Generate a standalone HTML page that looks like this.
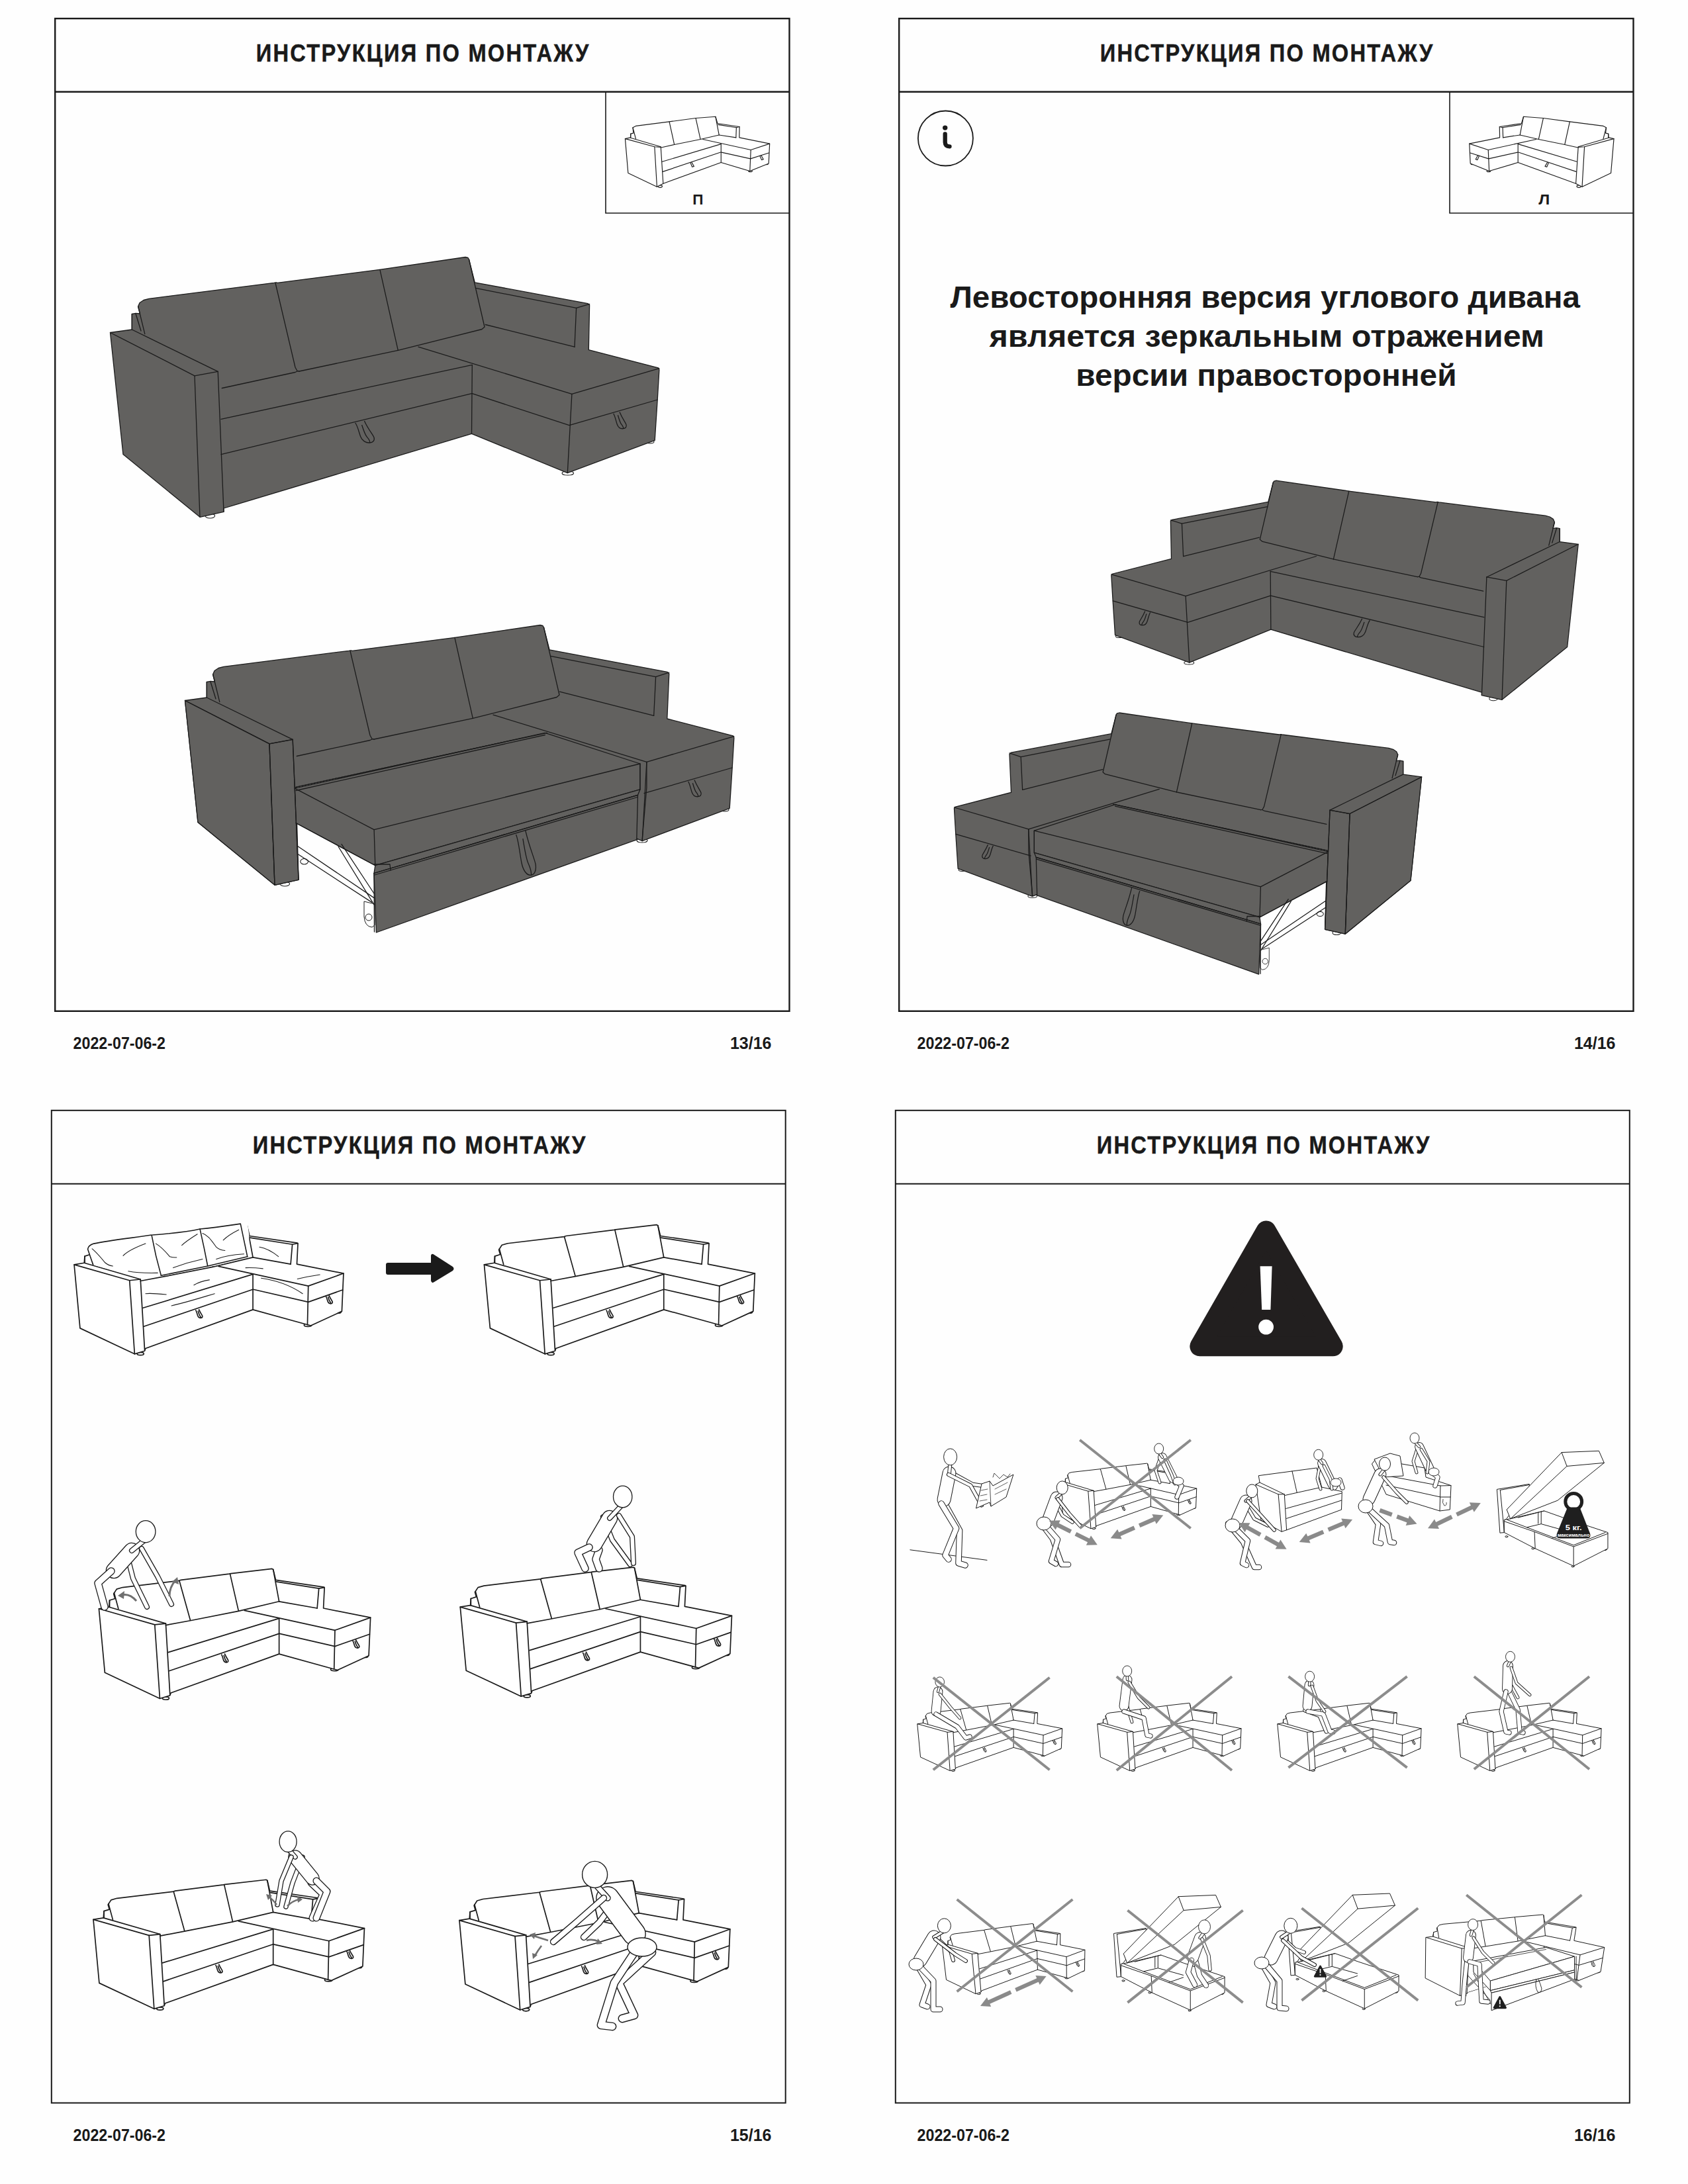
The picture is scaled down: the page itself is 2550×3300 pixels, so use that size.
<!DOCTYPE html>
<html><head><meta charset="utf-8"><style>
html,body{margin:0;padding:0;background:#fefefe;}
body{width:2550px;height:3300px;overflow:hidden;position:relative;}
svg{position:absolute;left:0;top:0;}
.nss *{vector-effect:non-scaling-stroke;}
</style></head><body>
<svg width="2550" height="3300" viewBox="0 0 2550 3300">
<rect x="83.2" y="28" width="1109.3" height="1499.8" fill="none" stroke="#1a1a1a" stroke-width="2.4"/>
<line x1="83.2" y1="138.8" x2="1192.5" y2="138.8" stroke="#1a1a1a" stroke-width="2.4"/>
<rect x="1358.2" y="28" width="1109.3" height="1499.8" fill="none" stroke="#1a1a1a" stroke-width="2.4"/>
<line x1="1358.2" y1="138.8" x2="2467.5" y2="138.8" stroke="#1a1a1a" stroke-width="2.4"/>
<rect x="77.8" y="1677.8" width="1108.9" height="1499.7" fill="none" stroke="#1a1a1a" stroke-width="2.0"/>
<line x1="77.8" y1="1788.8" x2="1186.7" y2="1788.8" stroke="#1a1a1a" stroke-width="2.0"/>
<rect x="1352.8" y="1677.8" width="1109.0000000000002" height="1499.7" fill="none" stroke="#1a1a1a" stroke-width="2.0"/>
<line x1="1352.8" y1="1788.8" x2="2461.8" y2="1788.8" stroke="#1a1a1a" stroke-width="2.0"/>
<text transform="translate(386.70000000000005,92.6) scale(0.9,1)" x="0" y="0" font-family="Liberation Sans" font-weight="bold" font-size="36.3" textLength="558.4" lengthAdjust="spacing" fill="#1a1a1a" stroke="#1a1a1a" stroke-width="0.5">ИНСТРУКЦИЯ ПО МОНТАЖУ</text>
<text transform="translate(1661.6999999999998,92.6) scale(0.9,1)" x="0" y="0" font-family="Liberation Sans" font-weight="bold" font-size="36.3" textLength="558.4" lengthAdjust="spacing" fill="#1a1a1a" stroke="#1a1a1a" stroke-width="0.5">ИНСТРУКЦИЯ ПО МОНТАЖУ</text>
<text transform="translate(381.70000000000005,1742.6) scale(0.9,1)" x="0" y="0" font-family="Liberation Sans" font-weight="bold" font-size="36.3" textLength="558.4" lengthAdjust="spacing" fill="#1a1a1a" stroke="#1a1a1a" stroke-width="0.5">ИНСТРУКЦИЯ ПО МОНТАЖУ</text>
<text transform="translate(1656.6999999999998,1742.6) scale(0.9,1)" x="0" y="0" font-family="Liberation Sans" font-weight="bold" font-size="36.3" textLength="558.4" lengthAdjust="spacing" fill="#1a1a1a" stroke="#1a1a1a" stroke-width="0.5">ИНСТРУКЦИЯ ПО МОНТАЖУ</text>
<text x="110.6" y="1584.6" font-family="Liberation Sans" font-weight="bold" font-size="25.5" textLength="139.4" lengthAdjust="spacingAndGlyphs" fill="#1a1a1a">2022-07-06-2</text>
<text x="1102.9" y="1584.6" font-family="Liberation Sans" font-weight="bold" font-size="25.5" textLength="62.6" lengthAdjust="spacingAndGlyphs" fill="#1a1a1a">13/16</text>
<text x="1385.6" y="1584.6" font-family="Liberation Sans" font-weight="bold" font-size="25.5" textLength="139.4" lengthAdjust="spacingAndGlyphs" fill="#1a1a1a">2022-07-06-2</text>
<text x="2377.9" y="1584.6" font-family="Liberation Sans" font-weight="bold" font-size="25.5" textLength="62.6" lengthAdjust="spacingAndGlyphs" fill="#1a1a1a">14/16</text>
<text x="110.6" y="3234.6" font-family="Liberation Sans" font-weight="bold" font-size="25.5" textLength="139.4" lengthAdjust="spacingAndGlyphs" fill="#1a1a1a">2022-07-06-2</text>
<text x="1102.9" y="3234.6" font-family="Liberation Sans" font-weight="bold" font-size="25.5" textLength="62.6" lengthAdjust="spacingAndGlyphs" fill="#1a1a1a">15/16</text>
<text x="1385.6" y="3234.6" font-family="Liberation Sans" font-weight="bold" font-size="25.5" textLength="139.4" lengthAdjust="spacingAndGlyphs" fill="#1a1a1a">2022-07-06-2</text>
<text x="2377.9" y="3234.6" font-family="Liberation Sans" font-weight="bold" font-size="25.5" textLength="62.6" lengthAdjust="spacingAndGlyphs" fill="#1a1a1a">16/16</text>
<polyline points="915,138.8 915,322 1192.5,322" fill="none" stroke="#1a1a1a" stroke-width="1.6"/>
<polyline points="2190,138.8 2190,322 2467.5,322" fill="none" stroke="#1a1a1a" stroke-width="1.6"/>
<g transform="matrix(0.1777145903678692,0,0,0.1777145903678692,900,135)" fill="none" stroke="#1c1c1c" stroke-width="6.5" stroke-linejoin="round" stroke-linecap="round">
<ellipse cx="547.5" cy="825.0" rx="17.5" ry="10.0"/>
<ellipse cx="1314.0" cy="695.0" rx="16.0" ry="7.0"/>
<ellipse cx="1452.5" cy="634.0" rx="12.5" ry="6.0"/>
<polygon points="250.0,420.0 295.0,410.0 297.0,378.0 320.0,372.0 315.0,325.0 340.0,312.0 625.0,275.0 850.0,245.0 1018.0,232.0 1035.0,290.0 1222.0,318.0 1220.0,410.0 1478.0,462.0 1470.0,630.0 1310.0,695.0 1065.0,622.0 575.0,800.0 520.0,828.0 275.0,712.0" fill="#fff"/>
<polyline points="250.0,420.0 500.0,488.0 553.0,492.0"/>
<polyline points="295.0,412.0 553.0,488.0"/>
<polyline points="500.0,488.0 520.0,828.0"/>
<polyline points="553.0,492.0 573.0,800.0"/>
<polyline points="315.0,325.0 340.0,420.0"/>
<polyline points="297.0,378.0 297.0,410.0"/>
<polyline points="625.0,275.0 668.0,470.0"/>
<polyline points="850.0,245.0 890.0,425.0"/>
<polyline points="555.0,495.0 668.0,470.0 890.0,425.0 1048.0,388.0"/>
<polyline points="1018.0,232.0 1048.0,388.0"/>
<polyline points="1040.0,300.0 1195.0,325.0 1222.0,318.0"/>
<polyline points="1195.0,325.0 1192.0,410.0"/>
<polyline points="1048.0,388.0 1192.0,410.0"/>
<polyline points="910.0,425.0 1318.0,515.0 1478.0,462.0"/>
<polyline points="1318.0,515.0 1310.0,695.0"/>
<polyline points="1068.0,535.0 1315.0,590.0 1472.0,540.0"/>
<polyline points="1065.0,465.0 1065.0,622.0"/>
<polyline points="565.0,615.0 1065.0,465.0"/>
<polyline points="570.0,700.0 1062.0,535.0"/>
<polyline points="805.0,625.0 820.0,660.0 835.0,655.0 815.0,620.0"/>
<polyline points="1395.0,565.0 1410.0,600.0 1425.0,595.0 1405.0,560.0"/>

</g>
<g transform="matrix(-0.1777145903678692,0,0,0.1777145903678692,2482.4462413364136,135)" fill="none" stroke="#1c1c1c" stroke-width="6.5" stroke-linejoin="round" stroke-linecap="round">
<ellipse cx="547.5" cy="825.0" rx="17.5" ry="10.0"/>
<ellipse cx="1314.0" cy="695.0" rx="16.0" ry="7.0"/>
<ellipse cx="1452.5" cy="634.0" rx="12.5" ry="6.0"/>
<polygon points="250.0,420.0 295.0,410.0 297.0,378.0 320.0,372.0 315.0,325.0 340.0,312.0 625.0,275.0 850.0,245.0 1018.0,232.0 1035.0,290.0 1222.0,318.0 1220.0,410.0 1478.0,462.0 1470.0,630.0 1310.0,695.0 1065.0,622.0 575.0,800.0 520.0,828.0 275.0,712.0" fill="#fff"/>
<polyline points="250.0,420.0 500.0,488.0 553.0,492.0"/>
<polyline points="295.0,412.0 553.0,488.0"/>
<polyline points="500.0,488.0 520.0,828.0"/>
<polyline points="553.0,492.0 573.0,800.0"/>
<polyline points="315.0,325.0 340.0,420.0"/>
<polyline points="297.0,378.0 297.0,410.0"/>
<polyline points="625.0,275.0 668.0,470.0"/>
<polyline points="850.0,245.0 890.0,425.0"/>
<polyline points="555.0,495.0 668.0,470.0 890.0,425.0 1048.0,388.0"/>
<polyline points="1018.0,232.0 1048.0,388.0"/>
<polyline points="1040.0,300.0 1195.0,325.0 1222.0,318.0"/>
<polyline points="1195.0,325.0 1192.0,410.0"/>
<polyline points="1048.0,388.0 1192.0,410.0"/>
<polyline points="910.0,425.0 1318.0,515.0 1478.0,462.0"/>
<polyline points="1318.0,515.0 1310.0,695.0"/>
<polyline points="1068.0,535.0 1315.0,590.0 1472.0,540.0"/>
<polyline points="1065.0,465.0 1065.0,622.0"/>
<polyline points="565.0,615.0 1065.0,465.0"/>
<polyline points="570.0,700.0 1062.0,535.0"/>
<polyline points="805.0,625.0 820.0,660.0 835.0,655.0 815.0,620.0"/>
<polyline points="1395.0,565.0 1410.0,600.0 1425.0,595.0 1405.0,560.0"/>

</g>
<text x="1046.2" y="308.8" font-family="Liberation Sans" font-weight="bold" font-size="22.7" textLength="16.2" lengthAdjust="spacingAndGlyphs" fill="#1a1a1a">П</text>
<text x="2324.3" y="308.8" font-family="Liberation Sans" font-weight="bold" font-size="22.7" textLength="17" lengthAdjust="spacingAndGlyphs" fill="#1a1a1a">Л</text>
<circle cx="1428.4" cy="209" r="41.5" fill="none" stroke="#1a1a1a" stroke-width="1.8"/>
<circle cx="1427.7" cy="193.1" r="3.7" fill="#1a1a1a"/>
<path d="M1427.7,202.5 L1427.7,215 Q1427.9,221.3 1434.5,221.3" fill="none" stroke="#1a1a1a" stroke-width="6.3" stroke-linecap="round" stroke-linejoin="round"/>
<text x="1435.4" y="465.3" font-family="Liberation Sans" font-weight="bold" font-size="46" textLength="951.5999999999999" lengthAdjust="spacingAndGlyphs" fill="#1a1a1a">Левосторонняя версия углового дивана</text>
<text x="1494.5" y="524" font-family="Liberation Sans" font-weight="bold" font-size="46" textLength="838.5" lengthAdjust="spacingAndGlyphs" fill="#1a1a1a">является зеркальным отражением</text>
<text x="1625.3" y="582.6" font-family="Liberation Sans" font-weight="bold" font-size="46" textLength="575.2" lengthAdjust="spacingAndGlyphs" fill="#1a1a1a">версии правосторонней</text>
<g transform="matrix(0.25352,0,0,0.25475,100.65,1840.00)" fill="none" stroke="#1c1c1c" stroke-width="1.7" stroke-linejoin="round" stroke-linecap="round" class="nss">
<ellipse cx="440.0" cy="806.5" rx="20.0" ry="8.5"/>
<ellipse cx="1437.5" cy="636.5" rx="22.5" ry="8.5"/>
<ellipse cx="1617.5" cy="559.0" rx="17.5" ry="7.0"/>
<polygon points="45.0,278.0 105.0,268.0 108.0,228.0 140.0,218.0 132.0,190.0 150.0,162.0 185.0,152.0 520.0,112.0 530.0,108.0 815.0,72.0 825.0,70.0 1068.0,42.0 1075.0,46.0 1090.0,108.0 1375.0,150.0 1378.0,155.0 1372.0,275.0 1650.0,330.0 1640.0,555.0 1455.0,640.0 1110.0,545.0 470.0,775.0 465.0,790.0 405.0,808.0 80.0,655.0" fill="#fff"/>
<polyline points="45.0,278.0 375.0,372.0 440.0,365.0"/>
<polyline points="105.0,268.0 440.0,365.0"/>
<polyline points="375.0,372.0 405.0,808.0"/>
<polyline points="440.0,365.0 465.0,785.0"/>
<polyline points="135.0,185.0 160.0,278.0"/>
<polyline points="108.0,228.0 108.0,268.0"/>
<polyline points="520.0,112.0 585.0,345.0"/>
<polyline points="820.0,72.0 870.0,290.0"/>
<polyline points="1075.0,46.0 1110.0,235.0"/>
<polyline points="440.0,375.0 585.0,348.0 870.0,292.0 1110.0,235.0"/>
<polyline points="1092.0,118.0 1345.0,158.0 1378.0,152.0"/>
<polyline points="1345.0,158.0 1335.0,275.0"/>
<polyline points="1110.0,235.0 1335.0,275.0"/>
<polyline points="905.0,288.0 1440.0,405.0 1650.0,330.0"/>
<polyline points="1440.0,405.0 1435.0,635.0"/>
<polyline points="1112.0,425.0 1440.0,500.0 1645.0,428.0"/>
<polyline points="1110.0,335.0 1110.0,545.0"/>
<polyline points="455.0,535.0 1110.0,335.0"/>
<polyline points="460.0,645.0 1110.0,425.0"/>
<path d="M770.0,549.4 C774.8,555.0 778.0,572.5 781.2,581.0 C784.4,590.0 792.0,595.0 799.6,594.5 C806.0,594.0 810.8,590.0 808.8,582.5 C806.0,575.0 797.2,565.0 788.8,545.0 M783.6,554.0 C786.8,565.0 790.0,576.0 794.0,581.0 C798.0,586.0 801.2,590.0 800.0,594.5"/>
<path d="M1545.0,466.2 C1549.8,471.6 1553.0,488.4 1556.2,496.6 C1559.4,505.2 1567.0,510.0 1574.6,509.5 C1581.0,509.0 1585.8,505.2 1583.8,498.0 C1581.0,490.8 1572.2,481.2 1563.8,462.0 M1558.6,470.6 C1561.8,481.2 1565.0,491.8 1569.0,496.6 C1573.0,501.4 1576.2,505.2 1575.0,509.5"/>

</g>
<g transform="matrix(0.25474,0,0,0.25475,720.00,1840.00)" fill="none" stroke="#1c1c1c" stroke-width="1.7" stroke-linejoin="round" stroke-linecap="round" class="nss">
<ellipse cx="440.0" cy="806.5" rx="20.0" ry="8.5"/>
<ellipse cx="1437.5" cy="636.5" rx="22.5" ry="8.5"/>
<ellipse cx="1617.5" cy="559.0" rx="17.5" ry="7.0"/>
<polygon points="45.0,278.0 105.0,268.0 108.0,228.0 140.0,218.0 132.0,190.0 150.0,162.0 185.0,152.0 520.0,112.0 530.0,108.0 815.0,72.0 825.0,70.0 1068.0,42.0 1075.0,46.0 1090.0,108.0 1375.0,150.0 1378.0,155.0 1372.0,275.0 1650.0,330.0 1640.0,555.0 1455.0,640.0 1110.0,545.0 470.0,775.0 465.0,790.0 405.0,808.0 80.0,655.0" fill="#fff"/>
<polyline points="45.0,278.0 375.0,372.0 440.0,365.0"/>
<polyline points="105.0,268.0 440.0,365.0"/>
<polyline points="375.0,372.0 405.0,808.0"/>
<polyline points="440.0,365.0 465.0,785.0"/>
<polyline points="135.0,185.0 160.0,278.0"/>
<polyline points="108.0,228.0 108.0,268.0"/>
<polyline points="520.0,112.0 585.0,345.0"/>
<polyline points="820.0,72.0 870.0,290.0"/>
<polyline points="1075.0,46.0 1110.0,235.0"/>
<polyline points="440.0,375.0 585.0,348.0 870.0,292.0 1110.0,235.0"/>
<polyline points="1092.0,118.0 1345.0,158.0 1378.0,152.0"/>
<polyline points="1345.0,158.0 1335.0,275.0"/>
<polyline points="1110.0,235.0 1335.0,275.0"/>
<polyline points="905.0,288.0 1440.0,405.0 1650.0,330.0"/>
<polyline points="1440.0,405.0 1435.0,635.0"/>
<polyline points="1112.0,425.0 1440.0,500.0 1645.0,428.0"/>
<polyline points="1110.0,335.0 1110.0,545.0"/>
<polyline points="455.0,535.0 1110.0,335.0"/>
<polyline points="460.0,645.0 1110.0,425.0"/>
<path d="M770.0,549.4 C774.8,555.0 778.0,572.5 781.2,581.0 C784.4,590.0 792.0,595.0 799.6,594.5 C806.0,594.0 810.8,590.0 808.8,582.5 C806.0,575.0 797.2,565.0 788.8,545.0 M783.6,554.0 C786.8,565.0 790.0,576.0 794.0,581.0 C798.0,586.0 801.2,590.0 800.0,594.5"/>
<path d="M1545.0,466.2 C1549.8,471.6 1553.0,488.4 1556.2,496.6 C1559.4,505.2 1567.0,510.0 1574.6,509.5 C1581.0,509.0 1585.8,505.2 1583.8,498.0 C1581.0,490.8 1572.2,481.2 1563.8,462.0 M1558.6,470.6 C1561.8,481.2 1565.0,491.8 1569.0,496.6 C1573.0,501.4 1576.2,505.2 1575.0,509.5"/>

</g>
<g transform="matrix(0.25558,0,0,0.25597,137.94,2359.64)" fill="none" stroke="#1c1c1c" stroke-width="1.7" stroke-linejoin="round" stroke-linecap="round" class="nss">
<ellipse cx="440.0" cy="806.5" rx="20.0" ry="8.5"/>
<ellipse cx="1437.5" cy="636.5" rx="22.5" ry="8.5"/>
<ellipse cx="1617.5" cy="559.0" rx="17.5" ry="7.0"/>
<polygon points="45.0,278.0 105.0,268.0 108.0,228.0 140.0,218.0 132.0,190.0 150.0,162.0 185.0,152.0 520.0,112.0 530.0,108.0 815.0,72.0 825.0,70.0 1068.0,42.0 1075.0,46.0 1090.0,108.0 1375.0,150.0 1378.0,155.0 1372.0,275.0 1650.0,330.0 1640.0,555.0 1455.0,640.0 1110.0,545.0 470.0,775.0 465.0,790.0 405.0,808.0 80.0,655.0" fill="#fff"/>
<polyline points="45.0,278.0 375.0,372.0 440.0,365.0"/>
<polyline points="105.0,268.0 440.0,365.0"/>
<polyline points="375.0,372.0 405.0,808.0"/>
<polyline points="440.0,365.0 465.0,785.0"/>
<polyline points="135.0,185.0 160.0,278.0"/>
<polyline points="108.0,228.0 108.0,268.0"/>
<polyline points="520.0,112.0 585.0,345.0"/>
<polyline points="820.0,72.0 870.0,290.0"/>
<polyline points="1075.0,46.0 1110.0,235.0"/>
<polyline points="440.0,375.0 585.0,348.0 870.0,292.0 1110.0,235.0"/>
<polyline points="1092.0,118.0 1345.0,158.0 1378.0,152.0"/>
<polyline points="1345.0,158.0 1335.0,275.0"/>
<polyline points="1110.0,235.0 1335.0,275.0"/>
<polyline points="905.0,288.0 1440.0,405.0 1650.0,330.0"/>
<polyline points="1440.0,405.0 1435.0,635.0"/>
<polyline points="1112.0,425.0 1440.0,500.0 1645.0,428.0"/>
<polyline points="1110.0,335.0 1110.0,545.0"/>
<polyline points="455.0,535.0 1110.0,335.0"/>
<polyline points="460.0,645.0 1110.0,425.0"/>
<path d="M770.0,549.4 C774.8,555.0 778.0,572.5 781.2,581.0 C784.4,590.0 792.0,595.0 799.6,594.5 C806.0,594.0 810.8,590.0 808.8,582.5 C806.0,575.0 797.2,565.0 788.8,545.0 M783.6,554.0 C786.8,565.0 790.0,576.0 794.0,581.0 C798.0,586.0 801.2,590.0 800.0,594.5"/>
<path d="M1545.0,466.2 C1549.8,471.6 1553.0,488.4 1556.2,496.6 C1559.4,505.2 1567.0,510.0 1574.6,509.5 C1581.0,509.0 1585.8,505.2 1583.8,498.0 C1581.0,490.8 1572.2,481.2 1563.8,462.0 M1558.6,470.6 C1561.8,481.2 1565.0,491.8 1569.0,496.6 C1573.0,501.4 1576.2,505.2 1575.0,509.5"/>

</g>
<g transform="matrix(0.25558,0,0,0.25467,683.74,2357.38)" fill="none" stroke="#1c1c1c" stroke-width="1.7" stroke-linejoin="round" stroke-linecap="round" class="nss">
<ellipse cx="440.0" cy="806.5" rx="20.0" ry="8.5"/>
<ellipse cx="1437.5" cy="636.5" rx="22.5" ry="8.5"/>
<ellipse cx="1617.5" cy="559.0" rx="17.5" ry="7.0"/>
<polygon points="45.0,278.0 105.0,268.0 108.0,228.0 140.0,218.0 132.0,190.0 150.0,162.0 185.0,152.0 520.0,112.0 530.0,108.0 815.0,72.0 825.0,70.0 1068.0,42.0 1075.0,46.0 1090.0,108.0 1375.0,150.0 1378.0,155.0 1372.0,275.0 1650.0,330.0 1640.0,555.0 1455.0,640.0 1110.0,545.0 470.0,775.0 465.0,790.0 405.0,808.0 80.0,655.0" fill="#fff"/>
<polyline points="45.0,278.0 375.0,372.0 440.0,365.0"/>
<polyline points="105.0,268.0 440.0,365.0"/>
<polyline points="375.0,372.0 405.0,808.0"/>
<polyline points="440.0,365.0 465.0,785.0"/>
<polyline points="135.0,185.0 160.0,278.0"/>
<polyline points="108.0,228.0 108.0,268.0"/>
<polyline points="520.0,112.0 585.0,345.0"/>
<polyline points="820.0,72.0 870.0,290.0"/>
<polyline points="1075.0,46.0 1110.0,235.0"/>
<polyline points="440.0,375.0 585.0,348.0 870.0,292.0 1110.0,235.0"/>
<polyline points="1092.0,118.0 1345.0,158.0 1378.0,152.0"/>
<polyline points="1345.0,158.0 1335.0,275.0"/>
<polyline points="1110.0,235.0 1335.0,275.0"/>
<polyline points="905.0,288.0 1440.0,405.0 1650.0,330.0"/>
<polyline points="1440.0,405.0 1435.0,635.0"/>
<polyline points="1112.0,425.0 1440.0,500.0 1645.0,428.0"/>
<polyline points="1110.0,335.0 1110.0,545.0"/>
<polyline points="455.0,535.0 1110.0,335.0"/>
<polyline points="460.0,645.0 1110.0,425.0"/>
<path d="M770.0,549.4 C774.8,555.0 778.0,572.5 781.2,581.0 C784.4,590.0 792.0,595.0 799.6,594.5 C806.0,594.0 810.8,590.0 808.8,582.5 C806.0,575.0 797.2,565.0 788.8,545.0 M783.6,554.0 C786.8,565.0 790.0,576.0 794.0,581.0 C798.0,586.0 801.2,590.0 800.0,594.5"/>
<path d="M1545.0,466.2 C1549.8,471.6 1553.0,488.4 1556.2,496.6 C1559.4,505.2 1567.0,510.0 1574.6,509.5 C1581.0,509.0 1585.8,505.2 1583.8,498.0 C1581.0,490.8 1572.2,481.2 1563.8,462.0 M1558.6,470.6 C1561.8,481.2 1565.0,491.8 1569.0,496.6 C1573.0,501.4 1576.2,505.2 1575.0,509.5"/>

</g>
<g transform="matrix(0.25512,0,0,0.25467,129.51,2829.58)" fill="none" stroke="#1c1c1c" stroke-width="1.7" stroke-linejoin="round" stroke-linecap="round" class="nss">
<ellipse cx="440.0" cy="806.5" rx="20.0" ry="8.5"/>
<ellipse cx="1437.5" cy="636.5" rx="22.5" ry="8.5"/>
<ellipse cx="1617.5" cy="559.0" rx="17.5" ry="7.0"/>
<polygon points="45.0,278.0 105.0,268.0 108.0,228.0 140.0,218.0 132.0,190.0 150.0,162.0 185.0,152.0 520.0,112.0 530.0,108.0 815.0,72.0 825.0,70.0 1068.0,42.0 1075.0,46.0 1090.0,108.0 1375.0,150.0 1378.0,155.0 1372.0,275.0 1650.0,330.0 1640.0,555.0 1455.0,640.0 1110.0,545.0 470.0,775.0 465.0,790.0 405.0,808.0 80.0,655.0" fill="#fff"/>
<polyline points="45.0,278.0 375.0,372.0 440.0,365.0"/>
<polyline points="105.0,268.0 440.0,365.0"/>
<polyline points="375.0,372.0 405.0,808.0"/>
<polyline points="440.0,365.0 465.0,785.0"/>
<polyline points="135.0,185.0 160.0,278.0"/>
<polyline points="108.0,228.0 108.0,268.0"/>
<polyline points="520.0,112.0 585.0,345.0"/>
<polyline points="820.0,72.0 870.0,290.0"/>
<polyline points="1075.0,46.0 1110.0,235.0"/>
<polyline points="440.0,375.0 585.0,348.0 870.0,292.0 1110.0,235.0"/>
<polyline points="1092.0,118.0 1345.0,158.0 1378.0,152.0"/>
<polyline points="1345.0,158.0 1335.0,275.0"/>
<polyline points="1110.0,235.0 1335.0,275.0"/>
<polyline points="905.0,288.0 1440.0,405.0 1650.0,330.0"/>
<polyline points="1440.0,405.0 1435.0,635.0"/>
<polyline points="1112.0,425.0 1440.0,500.0 1645.0,428.0"/>
<polyline points="1110.0,335.0 1110.0,545.0"/>
<polyline points="455.0,535.0 1110.0,335.0"/>
<polyline points="460.0,645.0 1110.0,425.0"/>
<path d="M770.0,549.4 C774.8,555.0 778.0,572.5 781.2,581.0 C784.4,590.0 792.0,595.0 799.6,594.5 C806.0,594.0 810.8,590.0 808.8,582.5 C806.0,575.0 797.2,565.0 788.8,545.0 M783.6,554.0 C786.8,565.0 790.0,576.0 794.0,581.0 C798.0,586.0 801.2,590.0 800.0,594.5"/>
<path d="M1545.0,466.2 C1549.8,471.6 1553.0,488.4 1556.2,496.6 C1559.4,505.2 1567.0,510.0 1574.6,509.5 C1581.0,509.0 1585.8,505.2 1583.8,498.0 C1581.0,490.8 1572.2,481.2 1563.8,462.0 M1558.6,470.6 C1561.8,481.2 1565.0,491.8 1569.0,496.6 C1573.0,501.4 1576.2,505.2 1575.0,509.5"/>

</g>
<g transform="matrix(0.25474,0,0,0.25536,682.50,2830.67)" fill="none" stroke="#1c1c1c" stroke-width="1.7" stroke-linejoin="round" stroke-linecap="round" class="nss">
<ellipse cx="440.0" cy="806.5" rx="20.0" ry="8.5"/>
<ellipse cx="1437.5" cy="636.5" rx="22.5" ry="8.5"/>
<ellipse cx="1617.5" cy="559.0" rx="17.5" ry="7.0"/>
<polygon points="45.0,278.0 105.0,268.0 108.0,228.0 140.0,218.0 132.0,190.0 150.0,162.0 185.0,152.0 520.0,112.0 530.0,108.0 815.0,72.0 825.0,70.0 1068.0,42.0 1075.0,46.0 1090.0,108.0 1375.0,150.0 1378.0,155.0 1372.0,275.0 1650.0,330.0 1640.0,555.0 1455.0,640.0 1110.0,545.0 470.0,775.0 465.0,790.0 405.0,808.0 80.0,655.0" fill="#fff"/>
<polyline points="45.0,278.0 375.0,372.0 440.0,365.0"/>
<polyline points="105.0,268.0 440.0,365.0"/>
<polyline points="375.0,372.0 405.0,808.0"/>
<polyline points="440.0,365.0 465.0,785.0"/>
<polyline points="135.0,185.0 160.0,278.0"/>
<polyline points="108.0,228.0 108.0,268.0"/>
<polyline points="520.0,112.0 585.0,345.0"/>
<polyline points="820.0,72.0 870.0,290.0"/>
<polyline points="1075.0,46.0 1110.0,235.0"/>
<polyline points="440.0,375.0 585.0,348.0 870.0,292.0 1110.0,235.0"/>
<polyline points="1092.0,118.0 1345.0,158.0 1378.0,152.0"/>
<polyline points="1345.0,158.0 1335.0,275.0"/>
<polyline points="1110.0,235.0 1335.0,275.0"/>
<polyline points="905.0,288.0 1440.0,405.0 1650.0,330.0"/>
<polyline points="1440.0,405.0 1435.0,635.0"/>
<polyline points="1112.0,425.0 1440.0,500.0 1645.0,428.0"/>
<polyline points="1110.0,335.0 1110.0,545.0"/>
<polyline points="455.0,535.0 1110.0,335.0"/>
<polyline points="460.0,645.0 1110.0,425.0"/>
<path d="M770.0,549.4 C774.8,555.0 778.0,572.5 781.2,581.0 C784.4,590.0 792.0,595.0 799.6,594.5 C806.0,594.0 810.8,590.0 808.8,582.5 C806.0,575.0 797.2,565.0 788.8,545.0 M783.6,554.0 C786.8,565.0 790.0,576.0 794.0,581.0 C798.0,586.0 801.2,590.0 800.0,594.5"/>
<path d="M1545.0,466.2 C1549.8,471.6 1553.0,488.4 1556.2,496.6 C1559.4,505.2 1567.0,510.0 1574.6,509.5 C1581.0,509.0 1585.8,505.2 1583.8,498.0 C1581.0,490.8 1572.2,481.2 1563.8,462.0 M1558.6,470.6 C1561.8,481.2 1565.0,491.8 1569.0,496.6 C1573.0,501.4 1576.2,505.2 1575.0,509.5"/>

</g>
<path d="M586,1908 L651,1908 L651,1897 Q652,1893 656,1896 L684,1914 Q687,1917 684,1920 L656,1937 Q652,1940 651,1935 L651,1926 L586,1926 Q583,1926 583,1923 L583,1911 Q583,1908 586,1908 Z" fill="#1a1a1a"/>
<g transform="matrix(0.26068821689259647,0,0,0.26068821689259647,100,1840)" fill="none" stroke="#1c1c1c" stroke-width="1.6" stroke-linejoin="round" stroke-linecap="round" class="nss">
<polygon points="118,175 130,148 500,92 1022,28 1050,28 1060,100 1058,228 880,274 560,338 430,349 160,274" fill="#fff" stroke="none"/>
<path d="M155,270 L125,182 Q128,160 160,150 C250,130 400,115 495,100 L520,220 L550,335"/>
<path d="M500,100 C600,92 700,82 775,65 L800,180 L820,280"/>
<path d="M775,65 C880,55 960,42 1010,35 L1030,130 L1050,225"/>
<path d="M550,335 L820,280 L1050,225"/>
<path d="M150,180 C170,195 200,230 225,260 Q245,278 270,280" stroke-width="1.1"/>
<path d="M330,220 C350,200 380,180 460,150" stroke-width="1.1"/>
<path d="M360,310 C400,318 450,322 530,320" stroke-width="1.1"/>
<path d="M520,150 C545,165 575,195 600,225 Q620,232 640,230" stroke-width="1.1"/>
<path d="M670,160 C690,140 720,120 760,95" stroke-width="1.1"/>
<path d="M620,290 C660,275 720,255 790,240" stroke-width="1.1"/>
<path d="M790,90 C820,100 840,130 870,170 Q890,188 920,190" stroke-width="1.1"/>
<path d="M910,130 C930,110 960,90 1000,70" stroke-width="1.1"/>
<path d="M870,240 C900,228 940,215 1030,210" stroke-width="1.1"/>
<path d="M1120,170 C1150,175 1180,185 1230,225" stroke-width="1.1"/>
<path d="M460,440 C490,436 530,440 580,445" stroke-width="1.1"/>
<path d="M740,390 C760,378 790,366 830,360" stroke-width="1.1"/>
<path d="M610,510 C680,495 760,470 860,440" stroke-width="1.1"/>
<path d="M1040,290 C1070,288 1100,290 1140,295" stroke-width="1.1"/>
<path d="M1130,350 C1200,360 1290,385 1370,440" stroke-width="1.1"/>
<path d="M1340,355 C1380,345 1420,338 1470,330" stroke-width="1.1"/>
</g>
<polyline points="190.0,2342.0 201.0,2385.0 222.0,2428.0" fill="none" stroke="#1c1c1c" stroke-width="8.1" stroke-linecap="round" stroke-linejoin="round"/><polyline points="190.0,2342.0 201.0,2385.0 222.0,2428.0" fill="none" stroke="#fff" stroke-width="5.5" stroke-linecap="round" stroke-linejoin="round"/>
<polyline points="199.0,2343.0 172.0,2373.0" fill="none" stroke="#1c1c1c" stroke-width="24.6" stroke-linecap="round" stroke-linejoin="round"/><polyline points="199.0,2343.0 172.0,2373.0" fill="none" stroke="#fff" stroke-width="22.0" stroke-linecap="round" stroke-linejoin="round"/>
<polyline points="168.0,2374.0 148.0,2392.0 158.0,2428.0" fill="none" stroke="#1c1c1c" stroke-width="11.6" stroke-linecap="round" stroke-linejoin="round"/><polyline points="168.0,2374.0 148.0,2392.0 158.0,2428.0" fill="none" stroke="#fff" stroke-width="9.0" stroke-linecap="round" stroke-linejoin="round"/>
<polyline points="220.1,2325.8 199.0,2343.0" fill="none" stroke="#1c1c1c" stroke-width="8.1" stroke-linecap="round" stroke-linejoin="round"/><polyline points="220.1,2325.8 199.0,2343.0" fill="none" stroke="#fff" stroke-width="5.5" stroke-linecap="round" stroke-linejoin="round"/>
<ellipse cx="220.1" cy="2314.2" rx="14.8" ry="16.6" fill="#fff" stroke="#1c1c1c" stroke-width="1.3"/>
<polyline points="214.0,2340.0 238.0,2382.0 259.0,2424.0" fill="none" stroke="#1c1c1c" stroke-width="8.1" stroke-linecap="round" stroke-linejoin="round"/><polyline points="214.0,2340.0 238.0,2382.0 259.0,2424.0" fill="none" stroke="#fff" stroke-width="5.5" stroke-linecap="round" stroke-linejoin="round"/>
<polyline points="911.0,2292.0 925.0,2327.0 952.0,2364.0" fill="none" stroke="#1c1c1c" stroke-width="8.1" stroke-linecap="round" stroke-linejoin="round"/><polyline points="911.0,2292.0 925.0,2327.0 952.0,2364.0" fill="none" stroke="#fff" stroke-width="5.5" stroke-linecap="round" stroke-linejoin="round"/>
<polyline points="905.0,2342.0 900.0,2356.0 905.0,2370.0" fill="none" stroke="#1c1c1c" stroke-width="11.6" stroke-linecap="round" stroke-linejoin="round"/><polyline points="905.0,2342.0 900.0,2356.0 905.0,2370.0" fill="none" stroke="#fff" stroke-width="9.0" stroke-linecap="round" stroke-linejoin="round"/>
<polyline points="921.0,2294.0 898.0,2333.0" fill="none" stroke="#1c1c1c" stroke-width="24.6" stroke-linecap="round" stroke-linejoin="round"/><polyline points="921.0,2294.0 898.0,2333.0" fill="none" stroke="#fff" stroke-width="22.0" stroke-linecap="round" stroke-linejoin="round"/>
<polyline points="890.0,2338.0 873.0,2346.0 884.0,2370.0" fill="none" stroke="#1c1c1c" stroke-width="11.6" stroke-linecap="round" stroke-linejoin="round"/><polyline points="890.0,2338.0 873.0,2346.0 884.0,2370.0" fill="none" stroke="#fff" stroke-width="9.0" stroke-linecap="round" stroke-linejoin="round"/>
<polyline points="940.7,2272.9 921.0,2294.0" fill="none" stroke="#1c1c1c" stroke-width="7.9" stroke-linecap="round" stroke-linejoin="round"/><polyline points="940.7,2272.9 921.0,2294.0" fill="none" stroke="#fff" stroke-width="5.3" stroke-linecap="round" stroke-linejoin="round"/>
<ellipse cx="940.7" cy="2261.5" rx="14.2" ry="16.3" fill="#fff" stroke="#1c1c1c" stroke-width="1.3"/>
<polyline points="935.0,2290.0 955.0,2322.0 957.0,2362.0" fill="none" stroke="#1c1c1c" stroke-width="8.1" stroke-linecap="round" stroke-linejoin="round"/><polyline points="935.0,2290.0 955.0,2322.0 957.0,2362.0" fill="none" stroke="#fff" stroke-width="5.5" stroke-linecap="round" stroke-linejoin="round"/>
<polyline points="457.0,2806.0 442.0,2845.0 432.0,2881.0" fill="none" stroke="#1c1c1c" stroke-width="7.6" stroke-linecap="round" stroke-linejoin="round"/><polyline points="457.0,2806.0 442.0,2845.0 432.0,2881.0" fill="none" stroke="#fff" stroke-width="5.0" stroke-linecap="round" stroke-linejoin="round"/>
<polyline points="470.0,2845.0 488.0,2862.0 472.0,2898.0" fill="none" stroke="#1c1c1c" stroke-width="11.1" stroke-linecap="round" stroke-linejoin="round"/><polyline points="470.0,2845.0 488.0,2862.0 472.0,2898.0" fill="none" stroke="#fff" stroke-width="8.5" stroke-linecap="round" stroke-linejoin="round"/>
<polyline points="446.0,2806.0 472.0,2838.0" fill="none" stroke="#1c1c1c" stroke-width="21.6" stroke-linecap="round" stroke-linejoin="round"/><polyline points="446.0,2806.0 472.0,2838.0" fill="none" stroke="#fff" stroke-width="19.0" stroke-linecap="round" stroke-linejoin="round"/>
<polyline points="478.0,2842.0 494.0,2858.0 478.0,2898.0" fill="none" stroke="#1c1c1c" stroke-width="11.1" stroke-linecap="round" stroke-linejoin="round"/><polyline points="478.0,2842.0 494.0,2858.0 478.0,2898.0" fill="none" stroke="#fff" stroke-width="8.5" stroke-linecap="round" stroke-linejoin="round"/>
<polyline points="435.1,2793.8 446.0,2806.0" fill="none" stroke="#1c1c1c" stroke-width="7.6" stroke-linecap="round" stroke-linejoin="round"/><polyline points="435.1,2793.8 446.0,2806.0" fill="none" stroke="#fff" stroke-width="5.0" stroke-linecap="round" stroke-linejoin="round"/>
<ellipse cx="435.1" cy="2782.7" rx="13" ry="15.8" fill="#fff" stroke="#1c1c1c" stroke-width="1.3"/>
<polyline points="440.0,2806.0 425.0,2842.0 419.0,2878.0" fill="none" stroke="#1c1c1c" stroke-width="7.6" stroke-linecap="round" stroke-linejoin="round"/><polyline points="440.0,2806.0 425.0,2842.0 419.0,2878.0" fill="none" stroke="#fff" stroke-width="5.0" stroke-linecap="round" stroke-linejoin="round"/>
<polyline points="930.0,2872.0 905.0,2905.0 882.0,2927.0" fill="none" stroke="#1c1c1c" stroke-width="10.3" stroke-linecap="round" stroke-linejoin="round"/><polyline points="930.0,2872.0 905.0,2905.0 882.0,2927.0" fill="none" stroke="#fff" stroke-width="7.5" stroke-linecap="round" stroke-linejoin="round"/>
<polyline points="985.0,2950.0 935.0,2996.0 958.0,3045.0 940.0,3050.0" fill="none" stroke="#1c1c1c" stroke-width="12.8" stroke-linecap="round" stroke-linejoin="round"/><polyline points="985.0,2950.0 935.0,2996.0 958.0,3045.0 940.0,3050.0" fill="none" stroke="#fff" stroke-width="10.0" stroke-linecap="round" stroke-linejoin="round"/>
<polyline points="918.0,2868.0 958.0,2922.0" fill="none" stroke="#1c1c1c" stroke-width="35.8" stroke-linecap="round" stroke-linejoin="round"/><polyline points="918.0,2868.0 958.0,2922.0" fill="none" stroke="#fff" stroke-width="33.0" stroke-linecap="round" stroke-linejoin="round"/>
<polyline points="965.0,2940.0 928.0,2996.0 908.0,3060.0 925.0,3062.0" fill="none" stroke="#1c1c1c" stroke-width="12.8" stroke-linecap="round" stroke-linejoin="round"/><polyline points="965.0,2940.0 928.0,2996.0 908.0,3060.0 925.0,3062.0" fill="none" stroke="#fff" stroke-width="10.0" stroke-linecap="round" stroke-linejoin="round"/>
<polyline points="898.6,2846.4 918.0,2868.0" fill="none" stroke="#1c1c1c" stroke-width="9.6" stroke-linecap="round" stroke-linejoin="round"/><polyline points="898.6,2846.4 918.0,2868.0" fill="none" stroke="#fff" stroke-width="6.8" stroke-linecap="round" stroke-linejoin="round"/>
<ellipse cx="898.6" cy="2832.4" rx="19" ry="20" fill="#fff" stroke="#1c1c1c" stroke-width="1.4"/>
<polyline points="912.0,2868.0 870.0,2905.0 836.0,2934.0" fill="none" stroke="#1c1c1c" stroke-width="10.3" stroke-linecap="round" stroke-linejoin="round"/><polyline points="912.0,2868.0 870.0,2905.0 836.0,2934.0" fill="none" stroke="#fff" stroke-width="7.5" stroke-linecap="round" stroke-linejoin="round"/>
<ellipse cx="970" cy="2942" rx="22" ry="14" fill="#fff" stroke="#1c1c1c" stroke-width="1.4"/>
<path d="M206,2419 Q196,2407 184,2410" fill="none" stroke="#6f6f6f" stroke-width="3"/><polygon points="178.0,2411.0 188.0,2404.0 187.0,2416.0" fill="#6f6f6f"/>
<path d="M256,2412 Q256,2398 265,2388" fill="none" stroke="#6f6f6f" stroke-width="3"/><polygon points="268.0,2383.0 270.0,2394.0 260.0,2390.0" fill="#6f6f6f"/>
<path d="M418,2878 Q412,2870 406,2866" fill="none" stroke="#6f6f6f" stroke-width="2.6"/><polygon points="402.0,2862.0 411.0,2864.0 405.0,2871.0" fill="#6f6f6f"/>
<path d="M434,2880 Q442,2872 452,2870" fill="none" stroke="#6f6f6f" stroke-width="2.6"/><polygon points="457.0,2870.0 449.0,2865.0 450.0,2875.0" fill="#6f6f6f"/>
<path d="M828,2932 Q815,2928 806,2925" fill="none" stroke="#6f6f6f" stroke-width="2.6"/><polygon points="800.0,2923.0 809.0,2920.0 807.0,2930.0" fill="#6f6f6f"/>
<path d="M818,2940 Q812,2948 808,2955" fill="none" stroke="#6f6f6f" stroke-width="2.6"/><polygon points="805.0,2960.0 804.0,2951.0 812.0,2954.0" fill="#6f6f6f"/>
<path d="M886,2932 Q895,2929 905,2934" fill="none" stroke="#6f6f6f" stroke-width="2.6"/><polygon points="910.0,2937.0 903.0,2929.0 901.0,2938.0" fill="#6f6f6f"/>
<polygon points="1912.7,1859.5 1812.4,2034.3 2013.7,2034.3" fill="#221f1f" stroke="#221f1f" stroke-width="30" stroke-linejoin="round"/>
<polygon points="1903.6,1913.2 1921.6,1913.2 1919.4,1979.1 1906.2,1979.1" fill="#fff"/>
<circle cx="1912.6" cy="2005.1" r="11.4" fill="#fff"/>
<g transform="matrix(0.13615,0,0,0.13344,1380.00,2567.72)" fill="none" stroke="#1c1c1c" stroke-width="1.0" stroke-linejoin="round" stroke-linecap="round" class="nss">
<ellipse cx="440.0" cy="806.5" rx="20.0" ry="8.5"/>
<ellipse cx="1437.5" cy="636.5" rx="22.5" ry="8.5"/>
<ellipse cx="1617.5" cy="559.0" rx="17.5" ry="7.0"/>
<polygon points="45.0,278.0 105.0,268.0 108.0,228.0 140.0,218.0 132.0,190.0 150.0,162.0 185.0,152.0 520.0,112.0 530.0,108.0 815.0,72.0 825.0,70.0 1068.0,42.0 1075.0,46.0 1090.0,108.0 1375.0,150.0 1378.0,155.0 1372.0,275.0 1650.0,330.0 1640.0,555.0 1455.0,640.0 1110.0,545.0 470.0,775.0 465.0,790.0 405.0,808.0 80.0,655.0" fill="#fff"/>
<polyline points="45.0,278.0 375.0,372.0 440.0,365.0"/>
<polyline points="105.0,268.0 440.0,365.0"/>
<polyline points="375.0,372.0 405.0,808.0"/>
<polyline points="440.0,365.0 465.0,785.0"/>
<polyline points="135.0,185.0 160.0,278.0"/>
<polyline points="108.0,228.0 108.0,268.0"/>
<polyline points="520.0,112.0 585.0,345.0"/>
<polyline points="820.0,72.0 870.0,290.0"/>
<polyline points="1075.0,46.0 1110.0,235.0"/>
<polyline points="440.0,375.0 585.0,348.0 870.0,292.0 1110.0,235.0"/>
<polyline points="1092.0,118.0 1345.0,158.0 1378.0,152.0"/>
<polyline points="1345.0,158.0 1335.0,275.0"/>
<polyline points="1110.0,235.0 1335.0,275.0"/>
<polyline points="905.0,288.0 1440.0,405.0 1650.0,330.0"/>
<polyline points="1440.0,405.0 1435.0,635.0"/>
<polyline points="1112.0,425.0 1440.0,500.0 1645.0,428.0"/>
<polyline points="1110.0,335.0 1110.0,545.0"/>
<polyline points="455.0,535.0 1110.0,335.0"/>
<polyline points="460.0,645.0 1110.0,425.0"/>
<path d="M770.0,549.4 C774.8,555.0 778.0,572.5 781.2,581.0 C784.4,590.0 792.0,595.0 799.6,594.5 C806.0,594.0 810.8,590.0 808.8,582.5 C806.0,575.0 797.2,565.0 788.8,545.0 M783.6,554.0 C786.8,565.0 790.0,576.0 794.0,581.0 C798.0,586.0 801.2,590.0 800.0,594.5"/>
<path d="M1545.0,466.2 C1549.8,471.6 1553.0,488.4 1556.2,496.6 C1559.4,505.2 1567.0,510.0 1574.6,509.5 C1581.0,509.0 1585.8,505.2 1583.8,498.0 C1581.0,490.8 1572.2,481.2 1563.8,462.0 M1558.6,470.6 C1561.8,481.2 1565.0,491.8 1569.0,496.6 C1573.0,501.4 1576.2,505.2 1575.0,509.5"/>

</g>
<g transform="matrix(0.13516,0,0,0.13344,1652.01,2567.72)" fill="none" stroke="#1c1c1c" stroke-width="1.0" stroke-linejoin="round" stroke-linecap="round" class="nss">
<ellipse cx="440.0" cy="806.5" rx="20.0" ry="8.5"/>
<ellipse cx="1437.5" cy="636.5" rx="22.5" ry="8.5"/>
<ellipse cx="1617.5" cy="559.0" rx="17.5" ry="7.0"/>
<polygon points="45.0,278.0 105.0,268.0 108.0,228.0 140.0,218.0 132.0,190.0 150.0,162.0 185.0,152.0 520.0,112.0 530.0,108.0 815.0,72.0 825.0,70.0 1068.0,42.0 1075.0,46.0 1090.0,108.0 1375.0,150.0 1378.0,155.0 1372.0,275.0 1650.0,330.0 1640.0,555.0 1455.0,640.0 1110.0,545.0 470.0,775.0 465.0,790.0 405.0,808.0 80.0,655.0" fill="#fff"/>
<polyline points="45.0,278.0 375.0,372.0 440.0,365.0"/>
<polyline points="105.0,268.0 440.0,365.0"/>
<polyline points="375.0,372.0 405.0,808.0"/>
<polyline points="440.0,365.0 465.0,785.0"/>
<polyline points="135.0,185.0 160.0,278.0"/>
<polyline points="108.0,228.0 108.0,268.0"/>
<polyline points="520.0,112.0 585.0,345.0"/>
<polyline points="820.0,72.0 870.0,290.0"/>
<polyline points="1075.0,46.0 1110.0,235.0"/>
<polyline points="440.0,375.0 585.0,348.0 870.0,292.0 1110.0,235.0"/>
<polyline points="1092.0,118.0 1345.0,158.0 1378.0,152.0"/>
<polyline points="1345.0,158.0 1335.0,275.0"/>
<polyline points="1110.0,235.0 1335.0,275.0"/>
<polyline points="905.0,288.0 1440.0,405.0 1650.0,330.0"/>
<polyline points="1440.0,405.0 1435.0,635.0"/>
<polyline points="1112.0,425.0 1440.0,500.0 1645.0,428.0"/>
<polyline points="1110.0,335.0 1110.0,545.0"/>
<polyline points="455.0,535.0 1110.0,335.0"/>
<polyline points="460.0,645.0 1110.0,425.0"/>
<path d="M770.0,549.4 C774.8,555.0 778.0,572.5 781.2,581.0 C784.4,590.0 792.0,595.0 799.6,594.5 C806.0,594.0 810.8,590.0 808.8,582.5 C806.0,575.0 797.2,565.0 788.8,545.0 M783.6,554.0 C786.8,565.0 790.0,576.0 794.0,581.0 C798.0,586.0 801.2,590.0 800.0,594.5"/>
<path d="M1545.0,466.2 C1549.8,471.6 1553.0,488.4 1556.2,496.6 C1559.4,505.2 1567.0,510.0 1574.6,509.5 C1581.0,509.0 1585.8,505.2 1583.8,498.0 C1581.0,490.8 1572.2,481.2 1563.8,462.0 M1558.6,470.6 C1561.8,481.2 1565.0,491.8 1569.0,496.6 C1573.0,501.4 1576.2,505.2 1575.0,509.5"/>

</g>
<g transform="matrix(0.13516,0,0,0.13344,1924.06,2567.72)" fill="none" stroke="#1c1c1c" stroke-width="1.0" stroke-linejoin="round" stroke-linecap="round" class="nss">
<ellipse cx="440.0" cy="806.5" rx="20.0" ry="8.5"/>
<ellipse cx="1437.5" cy="636.5" rx="22.5" ry="8.5"/>
<ellipse cx="1617.5" cy="559.0" rx="17.5" ry="7.0"/>
<polygon points="45.0,278.0 105.0,268.0 108.0,228.0 140.0,218.0 132.0,190.0 150.0,162.0 185.0,152.0 520.0,112.0 530.0,108.0 815.0,72.0 825.0,70.0 1068.0,42.0 1075.0,46.0 1090.0,108.0 1375.0,150.0 1378.0,155.0 1372.0,275.0 1650.0,330.0 1640.0,555.0 1455.0,640.0 1110.0,545.0 470.0,775.0 465.0,790.0 405.0,808.0 80.0,655.0" fill="#fff"/>
<polyline points="45.0,278.0 375.0,372.0 440.0,365.0"/>
<polyline points="105.0,268.0 440.0,365.0"/>
<polyline points="375.0,372.0 405.0,808.0"/>
<polyline points="440.0,365.0 465.0,785.0"/>
<polyline points="135.0,185.0 160.0,278.0"/>
<polyline points="108.0,228.0 108.0,268.0"/>
<polyline points="520.0,112.0 585.0,345.0"/>
<polyline points="820.0,72.0 870.0,290.0"/>
<polyline points="1075.0,46.0 1110.0,235.0"/>
<polyline points="440.0,375.0 585.0,348.0 870.0,292.0 1110.0,235.0"/>
<polyline points="1092.0,118.0 1345.0,158.0 1378.0,152.0"/>
<polyline points="1345.0,158.0 1335.0,275.0"/>
<polyline points="1110.0,235.0 1335.0,275.0"/>
<polyline points="905.0,288.0 1440.0,405.0 1650.0,330.0"/>
<polyline points="1440.0,405.0 1435.0,635.0"/>
<polyline points="1112.0,425.0 1440.0,500.0 1645.0,428.0"/>
<polyline points="1110.0,335.0 1110.0,545.0"/>
<polyline points="455.0,535.0 1110.0,335.0"/>
<polyline points="460.0,645.0 1110.0,425.0"/>
<path d="M770.0,549.4 C774.8,555.0 778.0,572.5 781.2,581.0 C784.4,590.0 792.0,595.0 799.6,594.5 C806.0,594.0 810.8,590.0 808.8,582.5 C806.0,575.0 797.2,565.0 788.8,545.0 M783.6,554.0 C786.8,565.0 790.0,576.0 794.0,581.0 C798.0,586.0 801.2,590.0 800.0,594.5"/>
<path d="M1545.0,466.2 C1549.8,471.6 1553.0,488.4 1556.2,496.6 C1559.4,505.2 1567.0,510.0 1574.6,509.5 C1581.0,509.0 1585.8,505.2 1583.8,498.0 C1581.0,490.8 1572.2,481.2 1563.8,462.0 M1558.6,470.6 C1561.8,481.2 1565.0,491.8 1569.0,496.6 C1573.0,501.4 1576.2,505.2 1575.0,509.5"/>

</g>
<g transform="matrix(0.13516,0,0,0.13344,2196.06,2567.72)" fill="none" stroke="#1c1c1c" stroke-width="1.0" stroke-linejoin="round" stroke-linecap="round" class="nss">
<ellipse cx="440.0" cy="806.5" rx="20.0" ry="8.5"/>
<ellipse cx="1437.5" cy="636.5" rx="22.5" ry="8.5"/>
<ellipse cx="1617.5" cy="559.0" rx="17.5" ry="7.0"/>
<polygon points="45.0,278.0 105.0,268.0 108.0,228.0 140.0,218.0 132.0,190.0 150.0,162.0 185.0,152.0 520.0,112.0 530.0,108.0 815.0,72.0 825.0,70.0 1068.0,42.0 1075.0,46.0 1090.0,108.0 1375.0,150.0 1378.0,155.0 1372.0,275.0 1650.0,330.0 1640.0,555.0 1455.0,640.0 1110.0,545.0 470.0,775.0 465.0,790.0 405.0,808.0 80.0,655.0" fill="#fff"/>
<polyline points="45.0,278.0 375.0,372.0 440.0,365.0"/>
<polyline points="105.0,268.0 440.0,365.0"/>
<polyline points="375.0,372.0 405.0,808.0"/>
<polyline points="440.0,365.0 465.0,785.0"/>
<polyline points="135.0,185.0 160.0,278.0"/>
<polyline points="108.0,228.0 108.0,268.0"/>
<polyline points="520.0,112.0 585.0,345.0"/>
<polyline points="820.0,72.0 870.0,290.0"/>
<polyline points="1075.0,46.0 1110.0,235.0"/>
<polyline points="440.0,375.0 585.0,348.0 870.0,292.0 1110.0,235.0"/>
<polyline points="1092.0,118.0 1345.0,158.0 1378.0,152.0"/>
<polyline points="1345.0,158.0 1335.0,275.0"/>
<polyline points="1110.0,235.0 1335.0,275.0"/>
<polyline points="905.0,288.0 1440.0,405.0 1650.0,330.0"/>
<polyline points="1440.0,405.0 1435.0,635.0"/>
<polyline points="1112.0,425.0 1440.0,500.0 1645.0,428.0"/>
<polyline points="1110.0,335.0 1110.0,545.0"/>
<polyline points="455.0,535.0 1110.0,335.0"/>
<polyline points="460.0,645.0 1110.0,425.0"/>
<path d="M770.0,549.4 C774.8,555.0 778.0,572.5 781.2,581.0 C784.4,590.0 792.0,595.0 799.6,594.5 C806.0,594.0 810.8,590.0 808.8,582.5 C806.0,575.0 797.2,565.0 788.8,545.0 M783.6,554.0 C786.8,565.0 790.0,576.0 794.0,581.0 C798.0,586.0 801.2,590.0 800.0,594.5"/>
<path d="M1545.0,466.2 C1549.8,471.6 1553.0,488.4 1556.2,496.6 C1559.4,505.2 1567.0,510.0 1574.6,509.5 C1581.0,509.0 1585.8,505.2 1583.8,498.0 C1581.0,490.8 1572.2,481.2 1563.8,462.0 M1558.6,470.6 C1561.8,481.2 1565.0,491.8 1569.0,496.6 C1573.0,501.4 1576.2,505.2 1575.0,509.5"/>

</g>
<polyline points="1417.0,2556.0 1414.0,2586.0" fill="none" stroke="#1c1c1c" stroke-width="14.8" stroke-linecap="round" stroke-linejoin="round"/><polyline points="1417.0,2556.0 1414.0,2586.0" fill="none" stroke="#fff" stroke-width="13.0" stroke-linecap="round" stroke-linejoin="round"/>
<polyline points="1414.0,2590.0 1446.0,2609.0 1459.0,2626.0 1465.0,2624.0" fill="none" stroke="#1c1c1c" stroke-width="7.3" stroke-linecap="round" stroke-linejoin="round"/><polyline points="1414.0,2590.0 1446.0,2609.0 1459.0,2626.0 1465.0,2624.0" fill="none" stroke="#fff" stroke-width="5.5" stroke-linecap="round" stroke-linejoin="round"/>
<polyline points="1419.7,2546.8 1417.0,2556.0" fill="none" stroke="#1c1c1c" stroke-width="4.3" stroke-linecap="round" stroke-linejoin="round"/><polyline points="1419.7,2546.8 1417.0,2556.0" fill="none" stroke="#fff" stroke-width="2.5" stroke-linecap="round" stroke-linejoin="round"/>
<ellipse cx="1419.7" cy="2541.5" rx="6.8" ry="7.6" fill="#fff" stroke="#1c1c1c" stroke-width="0.9"/>
<polyline points="1420.0,2560.0 1436.0,2580.0 1450.0,2596.0" fill="none" stroke="#1c1c1c" stroke-width="4.8" stroke-linecap="round" stroke-linejoin="round"/><polyline points="1420.0,2560.0 1436.0,2580.0 1450.0,2596.0" fill="none" stroke="#fff" stroke-width="3.0" stroke-linecap="round" stroke-linejoin="round"/>
<polyline points="1700.0,2542.0 1702.0,2575.0 1710.0,2602.0" fill="none" stroke="#1c1c1c" stroke-width="4.8" stroke-linecap="round" stroke-linejoin="round"/><polyline points="1700.0,2542.0 1702.0,2575.0 1710.0,2602.0" fill="none" stroke="#fff" stroke-width="3.0" stroke-linecap="round" stroke-linejoin="round"/>
<polyline points="1703.0,2538.0 1698.0,2578.0" fill="none" stroke="#1c1c1c" stroke-width="14.8" stroke-linecap="round" stroke-linejoin="round"/><polyline points="1703.0,2538.0 1698.0,2578.0" fill="none" stroke="#fff" stroke-width="13.0" stroke-linecap="round" stroke-linejoin="round"/>
<polyline points="1698.0,2586.0 1728.0,2596.0 1733.0,2622.0 1738.0,2623.0" fill="none" stroke="#1c1c1c" stroke-width="7.3" stroke-linecap="round" stroke-linejoin="round"/><polyline points="1698.0,2586.0 1728.0,2596.0 1733.0,2622.0 1738.0,2623.0" fill="none" stroke="#fff" stroke-width="5.5" stroke-linecap="round" stroke-linejoin="round"/>
<polyline points="1702.7,2530.5 1703.0,2538.0" fill="none" stroke="#1c1c1c" stroke-width="4.4" stroke-linecap="round" stroke-linejoin="round"/><polyline points="1702.7,2530.5 1703.0,2538.0" fill="none" stroke="#fff" stroke-width="2.6" stroke-linecap="round" stroke-linejoin="round"/>
<ellipse cx="1702.7" cy="2524.9" rx="7" ry="8" fill="#fff" stroke="#1c1c1c" stroke-width="0.9"/>
<polyline points="1706.0,2542.0 1720.0,2565.0 1735.0,2580.0" fill="none" stroke="#1c1c1c" stroke-width="4.8" stroke-linecap="round" stroke-linejoin="round"/><polyline points="1706.0,2542.0 1720.0,2565.0 1735.0,2580.0" fill="none" stroke="#fff" stroke-width="3.0" stroke-linecap="round" stroke-linejoin="round"/>
<polyline points="1972.0,2584.0 1994.0,2592.0 2004.0,2616.0" fill="none" stroke="#1c1c1c" stroke-width="7.3" stroke-linecap="round" stroke-linejoin="round"/><polyline points="1972.0,2584.0 1994.0,2592.0 2004.0,2616.0" fill="none" stroke="#fff" stroke-width="5.5" stroke-linecap="round" stroke-linejoin="round"/>
<polyline points="1978.0,2546.0 1975.0,2578.0" fill="none" stroke="#1c1c1c" stroke-width="14.8" stroke-linecap="round" stroke-linejoin="round"/><polyline points="1978.0,2546.0 1975.0,2578.0" fill="none" stroke="#fff" stroke-width="13.0" stroke-linecap="round" stroke-linejoin="round"/>
<polyline points="1976.0,2586.0 1999.0,2590.0 2009.0,2616.0 2014.0,2617.0" fill="none" stroke="#1c1c1c" stroke-width="7.3" stroke-linecap="round" stroke-linejoin="round"/><polyline points="1976.0,2586.0 1999.0,2590.0 2009.0,2616.0 2014.0,2617.0" fill="none" stroke="#fff" stroke-width="5.5" stroke-linecap="round" stroke-linejoin="round"/>
<polyline points="1978.6,2538.8 1978.0,2546.0" fill="none" stroke="#1c1c1c" stroke-width="4.4" stroke-linecap="round" stroke-linejoin="round"/><polyline points="1978.6,2538.8 1978.0,2546.0" fill="none" stroke="#fff" stroke-width="2.6" stroke-linecap="round" stroke-linejoin="round"/>
<ellipse cx="1978.6" cy="2533.2" rx="7" ry="8" fill="#fff" stroke="#1c1c1c" stroke-width="0.9"/>
<polyline points="1982.0,2548.0 1990.0,2570.0 2001.0,2586.0" fill="none" stroke="#1c1c1c" stroke-width="4.8" stroke-linecap="round" stroke-linejoin="round"/><polyline points="1982.0,2548.0 1990.0,2570.0 2001.0,2586.0" fill="none" stroke="#fff" stroke-width="3.0" stroke-linecap="round" stroke-linejoin="round"/>
<polyline points="2279.0,2520.0 2281.0,2543.0 2293.0,2565.0" fill="none" stroke="#1c1c1c" stroke-width="4.8" stroke-linecap="round" stroke-linejoin="round"/><polyline points="2279.0,2520.0 2281.0,2543.0 2293.0,2565.0" fill="none" stroke="#fff" stroke-width="3.0" stroke-linecap="round" stroke-linejoin="round"/>
<polyline points="2280.0,2556.0 2293.0,2583.0 2296.0,2617.0 2301.0,2618.0" fill="none" stroke="#1c1c1c" stroke-width="7.3" stroke-linecap="round" stroke-linejoin="round"/><polyline points="2280.0,2556.0 2293.0,2583.0 2296.0,2617.0 2301.0,2618.0" fill="none" stroke="#fff" stroke-width="5.5" stroke-linecap="round" stroke-linejoin="round"/>
<polyline points="2278.0,2517.0 2277.0,2552.0" fill="none" stroke="#1c1c1c" stroke-width="15.8" stroke-linecap="round" stroke-linejoin="round"/><polyline points="2278.0,2517.0 2277.0,2552.0" fill="none" stroke="#fff" stroke-width="14.0" stroke-linecap="round" stroke-linejoin="round"/>
<polyline points="2275.0,2556.0 2268.0,2586.0 2275.0,2617.0 2280.0,2618.0" fill="none" stroke="#1c1c1c" stroke-width="7.3" stroke-linecap="round" stroke-linejoin="round"/><polyline points="2275.0,2556.0 2268.0,2586.0 2275.0,2617.0 2280.0,2618.0" fill="none" stroke="#fff" stroke-width="5.5" stroke-linecap="round" stroke-linejoin="round"/>
<polyline points="2281.5,2508.9 2278.0,2517.0" fill="none" stroke="#1c1c1c" stroke-width="4.4" stroke-linecap="round" stroke-linejoin="round"/><polyline points="2281.5,2508.9 2278.0,2517.0" fill="none" stroke="#fff" stroke-width="2.6" stroke-linecap="round" stroke-linejoin="round"/>
<ellipse cx="2281.5" cy="2503.3" rx="7" ry="8" fill="#fff" stroke="#1c1c1c" stroke-width="0.9"/>
<polyline points="2283.0,2520.0 2291.0,2543.0 2311.0,2561.0" fill="none" stroke="#1c1c1c" stroke-width="4.8" stroke-linecap="round" stroke-linejoin="round"/><polyline points="2283.0,2520.0 2291.0,2543.0 2311.0,2561.0" fill="none" stroke="#fff" stroke-width="3.0" stroke-linecap="round" stroke-linejoin="round"/>
<line x1="1409.8" y1="2534.8" x2="1585.6" y2="2674.2" stroke="#8c8c8c" stroke-width="4.0"/><line x1="1585.6" y1="2534.8" x2="1409.8" y2="2674.2" stroke="#8c8c8c" stroke-width="4.0"/>
<line x1="1686.8" y1="2533.2" x2="1861" y2="2675" stroke="#8c8c8c" stroke-width="4.0"/><line x1="1861" y1="2533.2" x2="1686.8" y2="2675" stroke="#8c8c8c" stroke-width="4.0"/>
<line x1="1946.4" y1="2533.2" x2="2125.6" y2="2670.9" stroke="#8c8c8c" stroke-width="4.0"/><line x1="2125.6" y1="2533.2" x2="1946.4" y2="2670.9" stroke="#8c8c8c" stroke-width="4.0"/>
<line x1="2226.8" y1="2533.2" x2="2401" y2="2673.2" stroke="#8c8c8c" stroke-width="4.0"/><line x1="2401" y1="2533.2" x2="2226.8" y2="2673.2" stroke="#8c8c8c" stroke-width="4.0"/>
<g transform="matrix(0.13394,-0.00022,0.0038,0.13834,1416.66,2900.97)" fill="none" stroke="#1c1c1c" stroke-width="1.0" stroke-linejoin="round" stroke-linecap="round" class="nss">
<ellipse cx="440.0" cy="806.5" rx="20.0" ry="8.5"/>
<ellipse cx="1437.5" cy="636.5" rx="22.5" ry="8.5"/>
<ellipse cx="1617.5" cy="559.0" rx="17.5" ry="7.0"/>
<polygon points="45.0,278.0 105.0,268.0 108.0,228.0 140.0,218.0 132.0,190.0 150.0,162.0 185.0,152.0 520.0,112.0 530.0,108.0 815.0,72.0 825.0,70.0 1068.0,42.0 1075.0,46.0 1090.0,108.0 1375.0,150.0 1378.0,155.0 1372.0,275.0 1650.0,330.0 1640.0,555.0 1455.0,640.0 1110.0,545.0 470.0,775.0 465.0,790.0 405.0,808.0 80.0,655.0" fill="#fff"/>
<polyline points="45.0,278.0 375.0,372.0 440.0,365.0"/>
<polyline points="105.0,268.0 440.0,365.0"/>
<polyline points="375.0,372.0 405.0,808.0"/>
<polyline points="440.0,365.0 465.0,785.0"/>
<polyline points="135.0,185.0 160.0,278.0"/>
<polyline points="108.0,228.0 108.0,268.0"/>
<polyline points="520.0,112.0 585.0,345.0"/>
<polyline points="820.0,72.0 870.0,290.0"/>
<polyline points="1075.0,46.0 1110.0,235.0"/>
<polyline points="440.0,375.0 585.0,348.0 870.0,292.0 1110.0,235.0"/>
<polyline points="1092.0,118.0 1345.0,158.0 1378.0,152.0"/>
<polyline points="1345.0,158.0 1335.0,275.0"/>
<polyline points="1110.0,235.0 1335.0,275.0"/>
<polyline points="905.0,288.0 1440.0,405.0 1650.0,330.0"/>
<polyline points="1440.0,405.0 1435.0,635.0"/>
<polyline points="1112.0,425.0 1440.0,500.0 1645.0,428.0"/>
<polyline points="1110.0,335.0 1110.0,545.0"/>
<polyline points="455.0,535.0 1110.0,335.0"/>
<polyline points="460.0,645.0 1110.0,425.0"/>
<path d="M770.0,549.4 C774.8,555.0 778.0,572.5 781.2,581.0 C784.4,590.0 792.0,595.0 799.6,594.5 C806.0,594.0 810.8,590.0 808.8,582.5 C806.0,575.0 797.2,565.0 788.8,545.0 M783.6,554.0 C786.8,565.0 790.0,576.0 794.0,581.0 C798.0,586.0 801.2,590.0 800.0,594.5"/>
<path d="M1545.0,466.2 C1549.8,471.6 1553.0,488.4 1556.2,496.6 C1559.4,505.2 1567.0,510.0 1574.6,509.5 C1581.0,509.0 1585.8,505.2 1583.8,498.0 C1581.0,490.8 1572.2,481.2 1563.8,462.0 M1558.6,470.6 C1561.8,481.2 1565.0,491.8 1569.0,496.6 C1573.0,501.4 1576.2,505.2 1575.0,509.5"/>

</g>
<polyline points="1415.0,2928.0 1436.0,2948.0 1440.0,2962.0" fill="none" stroke="#1c1c1c" stroke-width="6.0" stroke-linecap="round" stroke-linejoin="round"/><polyline points="1415.0,2928.0 1436.0,2948.0 1440.0,2962.0" fill="none" stroke="#fff" stroke-width="4.0" stroke-linecap="round" stroke-linejoin="round"/>
<polyline points="1385.0,2968.0 1403.0,2999.0 1393.0,3029.0 1401.0,3032.0" fill="none" stroke="#1c1c1c" stroke-width="9.0" stroke-linecap="round" stroke-linejoin="round"/><polyline points="1385.0,2968.0 1403.0,2999.0 1393.0,3029.0 1401.0,3032.0" fill="none" stroke="#fff" stroke-width="7.0" stroke-linecap="round" stroke-linejoin="round"/>
<polyline points="1411.0,2927.0 1390.0,2962.0" fill="none" stroke="#1c1c1c" stroke-width="21.0" stroke-linecap="round" stroke-linejoin="round"/><polyline points="1411.0,2927.0 1390.0,2962.0" fill="none" stroke="#fff" stroke-width="19.0" stroke-linecap="round" stroke-linejoin="round"/>
<polyline points="1388.0,2970.0 1410.0,2993.0 1410.0,3036.0 1420.0,3036.0" fill="none" stroke="#1c1c1c" stroke-width="9.0" stroke-linecap="round" stroke-linejoin="round"/><polyline points="1388.0,2970.0 1410.0,2993.0 1410.0,3036.0 1420.0,3036.0" fill="none" stroke="#fff" stroke-width="7.0" stroke-linecap="round" stroke-linejoin="round"/>
<polyline points="1426.4,2917.5 1411.0,2927.0" fill="none" stroke="#1c1c1c" stroke-width="5.7" stroke-linecap="round" stroke-linejoin="round"/><polyline points="1426.4,2917.5 1411.0,2927.0" fill="none" stroke="#fff" stroke-width="3.7" stroke-linecap="round" stroke-linejoin="round"/>
<ellipse cx="1426.4" cy="2909.8" rx="10" ry="11" fill="#fff" stroke="#1c1c1c" stroke-width="1.0"/>
<polyline points="1413.0,2930.0 1443.0,2953.0 1459.0,2963.0" fill="none" stroke="#1c1c1c" stroke-width="6.0" stroke-linecap="round" stroke-linejoin="round"/><polyline points="1413.0,2930.0 1443.0,2953.0 1459.0,2963.0" fill="none" stroke="#fff" stroke-width="4.0" stroke-linecap="round" stroke-linejoin="round"/>
<ellipse cx="1384" cy="2968" rx="11" ry="9" fill="#fff" stroke="#1c1c1c" stroke-width="1"/>
<line x1="1492.0" y1="3025.9" x2="1527.2" y2="3010.1" stroke="#8a8a8a" stroke-width="6"/>
<line x1="1534.4" y1="3006.8" x2="1569.6" y2="2991.0" stroke="#8a8a8a" stroke-width="6"/>
<polygon points="1580.6,2986.0 1570.7,2998.9 1564.4,2984.9" fill="#8a8a8a"/>
<polygon points="1481.0,3030.9 1497.2,3032.0 1490.9,3018.0" fill="#8a8a8a"/>
<line x1="1445.6" y1="2870" x2="1620.4" y2="3009.3" stroke="#8c8c8c" stroke-width="4.0"/><line x1="1620.4" y1="2870" x2="1445.6" y2="3009.3" stroke="#8c8c8c" stroke-width="4.0"/>
<g transform="matrix(0.11256190904997748,0,0,0.11256190904997748,1675,2855)" fill="none" stroke="#1c1c1c" stroke-width="1.0" stroke-linejoin="round" stroke-linecap="round" class="nss">
<ellipse cx="195" cy="1225" rx="18" ry="10"/>
<ellipse cx="550" cy="1385" rx="18" ry="10"/>
<ellipse cx="1085" cy="1625" rx="18" ry="10"/>
<ellipse cx="1520" cy="1400" rx="18" ry="10"/>
<polygon points="70.0,590.0 500.0,520.0 505.0,540.0 200.0,980.0 165.0,1010.0 165.0,1170.0 110.0,1175.0" fill="#fff"/>
<polygon points="165.0,1000.0 250.0,985.0 700.0,880.0 1010.0,990.0 1555.0,1170.0 1555.0,1385.0 1095.0,1620.0 580.0,1385.0 165.0,1170.0" fill="#fff"/>
<polyline points="165.0,1020.0 570.0,1160.0 1095.0,1360.0 1555.0,1185.0"/>
<polyline points="570.0,1160.0 580.0,1385.0"/>
<polyline points="1095.0,1360.0 1095.0,1620.0"/>
<polyline points="205.0,1000.0 570.0,1140.0 1095.0,1340.0 1520.0,1170.0"/>
<polyline points="470.0,1100.0 660.0,1055.0 1000.0,1150.0"/>
<polyline points="620.0,900.0 620.0,1050.0"/>
<polyline points="660.0,895.0 660.0,1050.0"/>
<polyline points="800.0,1250.0 1000.0,1180.0"/>
<polyline points="350.0,970.0 700.0,880.0"/>
<polyline points="1270.0,270.0 1285.0,330.0 1300.0,365.0 1310.0,330.0 1290.0,270.0"/>
<polygon points="200.0,860.0 935.0,95.0 1435.0,75.0 1505.0,235.0 880.0,740.0 250.0,985.0" fill="#fff"/>
<polyline points="110.0,600.0 500.0,530.0"/>
<polyline points="110.0,600.0 165.0,1165.0"/>
<polyline points="935.0,95.0 1005.0,280.0 1505.0,235.0"/>
<polyline points="1005.0,280.0 250.0,985.0"/>
</g>
<polyline points="1806.0,2962.0 1812.0,2985.0 1822.0,3000.0" fill="none" stroke="#1c1c1c" stroke-width="8.3" stroke-linecap="round" stroke-linejoin="round"/><polyline points="1806.0,2962.0 1812.0,2985.0 1822.0,3000.0" fill="none" stroke="#fff" stroke-width="6.5" stroke-linecap="round" stroke-linejoin="round"/>
<polyline points="1813.0,2928.0 1802.0,2958.0" fill="none" stroke="#1c1c1c" stroke-width="17.8" stroke-linecap="round" stroke-linejoin="round"/><polyline points="1813.0,2928.0 1802.0,2958.0" fill="none" stroke="#fff" stroke-width="16.0" stroke-linecap="round" stroke-linejoin="round"/>
<polyline points="1800.0,2962.0 1795.0,2980.0 1805.0,2999.0" fill="none" stroke="#1c1c1c" stroke-width="8.3" stroke-linecap="round" stroke-linejoin="round"/><polyline points="1800.0,2962.0 1795.0,2980.0 1805.0,2999.0" fill="none" stroke="#fff" stroke-width="6.5" stroke-linecap="round" stroke-linejoin="round"/>
<polyline points="1819.5,2918.8 1813.0,2928.0" fill="none" stroke="#1c1c1c" stroke-width="5.2" stroke-linecap="round" stroke-linejoin="round"/><polyline points="1819.5,2918.8 1813.0,2928.0" fill="none" stroke="#fff" stroke-width="3.4" stroke-linecap="round" stroke-linejoin="round"/>
<ellipse cx="1819.5" cy="2911.4" rx="9" ry="10.5" fill="#fff" stroke="#1c1c1c" stroke-width="0.9"/>
<polyline points="1816.0,2930.0 1826.0,2955.0 1828.0,2976.0" fill="none" stroke="#1c1c1c" stroke-width="5.4" stroke-linecap="round" stroke-linejoin="round"/><polyline points="1816.0,2930.0 1826.0,2955.0 1828.0,2976.0" fill="none" stroke="#fff" stroke-width="3.6" stroke-linecap="round" stroke-linejoin="round"/>
<line x1="1703.4" y1="2886.5" x2="1877.6" y2="3025.9" stroke="#8c8c8c" stroke-width="4.0"/><line x1="1877.6" y1="2886.5" x2="1703.4" y2="3025.9" stroke="#8c8c8c" stroke-width="4.0"/>
<g transform="matrix(0.11256190904997748,0,0,0.11256190904997748,1938.0,2852.6)" fill="none" stroke="#1c1c1c" stroke-width="1.0" stroke-linejoin="round" stroke-linecap="round" class="nss">
<ellipse cx="195" cy="1225" rx="18" ry="10"/>
<ellipse cx="550" cy="1385" rx="18" ry="10"/>
<ellipse cx="1085" cy="1625" rx="18" ry="10"/>
<ellipse cx="1520" cy="1400" rx="18" ry="10"/>
<polygon points="70.0,590.0 500.0,520.0 505.0,540.0 200.0,980.0 165.0,1010.0 165.0,1170.0 110.0,1175.0" fill="#fff"/>
<polygon points="165.0,1000.0 250.0,985.0 700.0,880.0 1010.0,990.0 1555.0,1170.0 1555.0,1385.0 1095.0,1620.0 580.0,1385.0 165.0,1170.0" fill="#fff"/>
<polyline points="165.0,1020.0 570.0,1160.0 1095.0,1360.0 1555.0,1185.0"/>
<polyline points="570.0,1160.0 580.0,1385.0"/>
<polyline points="1095.0,1360.0 1095.0,1620.0"/>
<polyline points="205.0,1000.0 570.0,1140.0 1095.0,1340.0 1520.0,1170.0"/>
<polyline points="470.0,1100.0 660.0,1055.0 1000.0,1150.0"/>
<polyline points="620.0,900.0 620.0,1050.0"/>
<polyline points="660.0,895.0 660.0,1050.0"/>
<polyline points="800.0,1250.0 1000.0,1180.0"/>
<polyline points="350.0,970.0 700.0,880.0"/>
<polyline points="1270.0,270.0 1285.0,330.0 1300.0,365.0 1310.0,330.0 1290.0,270.0"/>
<polygon points="200.0,860.0 935.0,95.0 1435.0,75.0 1505.0,235.0 880.0,740.0 250.0,985.0" fill="#fff"/>
<polyline points="110.0,600.0 500.0,530.0"/>
<polyline points="110.0,600.0 165.0,1165.0"/>
<polyline points="935.0,95.0 1005.0,280.0 1505.0,235.0"/>
<polyline points="1005.0,280.0 250.0,985.0"/>
</g>
<polyline points="1940.0,2930.0 1956.0,2945.0 1970.0,2950.0" fill="none" stroke="#1c1c1c" stroke-width="6.0" stroke-linecap="round" stroke-linejoin="round"/><polyline points="1940.0,2930.0 1956.0,2945.0 1970.0,2950.0" fill="none" stroke="#fff" stroke-width="4.0" stroke-linecap="round" stroke-linejoin="round"/>
<polyline points="1906.0,2966.0 1923.0,2996.0 1917.0,3029.0 1925.0,3032.0" fill="none" stroke="#1c1c1c" stroke-width="9.0" stroke-linecap="round" stroke-linejoin="round"/><polyline points="1906.0,2966.0 1923.0,2996.0 1917.0,3029.0 1925.0,3032.0" fill="none" stroke="#fff" stroke-width="7.0" stroke-linecap="round" stroke-linejoin="round"/>
<polyline points="1936.0,2927.0 1920.0,2959.0" fill="none" stroke="#1c1c1c" stroke-width="21.0" stroke-linecap="round" stroke-linejoin="round"/><polyline points="1936.0,2927.0 1920.0,2959.0" fill="none" stroke="#fff" stroke-width="19.0" stroke-linecap="round" stroke-linejoin="round"/>
<polyline points="1912.0,2968.0 1933.0,2993.0 1933.0,3034.0 1943.0,3035.0" fill="none" stroke="#1c1c1c" stroke-width="9.0" stroke-linecap="round" stroke-linejoin="round"/><polyline points="1912.0,2968.0 1933.0,2993.0 1933.0,3034.0 1943.0,3035.0" fill="none" stroke="#fff" stroke-width="7.0" stroke-linecap="round" stroke-linejoin="round"/>
<polyline points="1949.8,2917.9 1936.0,2927.0" fill="none" stroke="#1c1c1c" stroke-width="5.8" stroke-linecap="round" stroke-linejoin="round"/><polyline points="1949.8,2917.9 1936.0,2927.0" fill="none" stroke="#fff" stroke-width="3.8" stroke-linecap="round" stroke-linejoin="round"/>
<ellipse cx="1949.8" cy="2909.8" rx="10" ry="11.5" fill="#fff" stroke="#1c1c1c" stroke-width="1.0"/>
<polyline points="1938.0,2932.0 1966.0,2958.0 1986.0,2969.0" fill="none" stroke="#1c1c1c" stroke-width="6.0" stroke-linecap="round" stroke-linejoin="round"/><polyline points="1938.0,2932.0 1966.0,2958.0 1986.0,2969.0" fill="none" stroke="#fff" stroke-width="4.0" stroke-linecap="round" stroke-linejoin="round"/>
<ellipse cx="1906" cy="2966" rx="11" ry="9" fill="#fff" stroke="#1c1c1c" stroke-width="1"/>
<polygon points="1994.5,2970.865 1986.184,2986.405 2002.816,2986.405" fill="#1f1f1f" stroke="#1f1f1f" stroke-width="2.73" stroke-linejoin="round"/><rect x="1993.66" y="2974.98" width="1.68" height="6.39" fill="#fff"/><circle cx="1994.5" cy="2984.12" r="1.05" fill="#fff"/>
<line x1="1966.4" y1="2883.2" x2="2142.2" y2="3022.6" stroke="#8c8c8c" stroke-width="4.0"/><line x1="2142.2" y1="2883.2" x2="1966.4" y2="3022.6" stroke="#8c8c8c" stroke-width="4.0"/>
<g transform="matrix(0.16845,0.00408,-0.01763,0.16347,2151.58,2881.76)" fill="none" stroke="#1c1c1c" stroke-width="1.0" stroke-linejoin="round" stroke-linecap="round" class="nss">
<ellipse cx="440.0" cy="806.5" rx="20.0" ry="8.5"/>
<ellipse cx="1437.5" cy="636.5" rx="22.5" ry="8.5"/>
<ellipse cx="1617.5" cy="559.0" rx="17.5" ry="7.0"/>
<polygon points="45.0,278.0 105.0,268.0 108.0,228.0 140.0,218.0 132.0,190.0 150.0,162.0 185.0,152.0 520.0,112.0 530.0,108.0 815.0,72.0 825.0,70.0 1068.0,42.0 1075.0,46.0 1090.0,108.0 1375.0,150.0 1378.0,155.0 1372.0,275.0 1650.0,330.0 1640.0,555.0 1455.0,640.0 1110.0,545.0 470.0,775.0 465.0,790.0 405.0,808.0 80.0,655.0" fill="#fff"/>
<polyline points="45.0,278.0 375.0,372.0 440.0,365.0"/>
<polyline points="105.0,268.0 440.0,365.0"/>
<polyline points="375.0,372.0 405.0,808.0"/>
<polyline points="440.0,365.0 465.0,785.0"/>
<polyline points="135.0,185.0 160.0,278.0"/>
<polyline points="108.0,228.0 108.0,268.0"/>
<polyline points="520.0,112.0 585.0,345.0"/>
<polyline points="820.0,72.0 870.0,290.0"/>
<polyline points="1075.0,46.0 1110.0,235.0"/>
<polyline points="440.0,375.0 585.0,348.0 870.0,292.0 1110.0,235.0"/>
<polyline points="1092.0,118.0 1345.0,158.0 1378.0,152.0"/>
<polyline points="1345.0,158.0 1335.0,275.0"/>
<polyline points="1110.0,235.0 1335.0,275.0"/>
<polyline points="905.0,288.0 1440.0,405.0 1650.0,330.0"/>
<polyline points="1440.0,405.0 1435.0,635.0"/>
<polyline points="1112.0,425.0 1440.0,500.0 1645.0,428.0"/>
<polyline points="1110.0,335.0 1110.0,545.0"/>
<path d="M770.0,549.4 C774.8,555.0 778.0,572.5 781.2,581.0 C784.4,590.0 792.0,595.0 799.6,594.5 C806.0,594.0 810.8,590.0 808.8,582.5 C806.0,575.0 797.2,565.0 788.8,545.0 M783.6,554.0 C786.8,565.0 790.0,576.0 794.0,581.0 C798.0,586.0 801.2,590.0 800.0,594.5"/>
<path d="M1545.0,466.2 C1549.8,471.6 1553.0,488.4 1556.2,496.6 C1559.4,505.2 1567.0,510.0 1574.6,509.5 C1581.0,509.0 1585.8,505.2 1583.8,498.0 C1581.0,490.8 1572.2,481.2 1563.8,462.0 M1558.6,470.6 C1561.8,481.2 1565.0,491.8 1569.0,496.6 C1573.0,501.4 1576.2,505.2 1575.0,509.5"/>
<polygon points="469,538 1107,341 1107,548 472,772 469,780" fill="#fff" stroke="none"/>
</g>
<polyline points="2213.0,2980.0 2251.0,3022.0" fill="none" stroke="#1c1c1c" stroke-width="0.9" stroke-linejoin="round" stroke-linecap="round"/>
<polyline points="2226.0,2982.0 2252.0,3028.0" fill="none" stroke="#1c1c1c" stroke-width="0.9" stroke-linejoin="round" stroke-linecap="round"/>
<polygon points="2225.6,2963.1 2335.5,2942.5 2378.5,2956.2 2251.4,2993.1 2251.4,3007.7 2226.0,2980.0" fill="#fff" stroke="#1c1c1c" stroke-width="1.0" stroke-linejoin="round"/>
<polyline points="2251.4,2993.1 2225.6,2963.1" fill="none" stroke="#1c1c1c" stroke-width="1.0" stroke-linejoin="round" stroke-linecap="round"/>
<polyline points="2227.0,2966.0 2335.5,2945.5" fill="none" stroke="#1c1c1c" stroke-width="0.8" stroke-linejoin="round" stroke-linecap="round"/>
<polygon points="2251.4,2993.1 2378.5,2956.2 2378.5,2976.8 2251.4,3007.7" fill="#fff" stroke="#1c1c1c" stroke-width="1.0" stroke-linejoin="round"/>
<polygon points="2251.4,3007.7 2378.5,2976.8 2378.5,2980.0 2253.1,3011.2" fill="#fff" stroke="#1c1c1c" stroke-width="1.0" stroke-linejoin="round"/>
<polygon points="2253.1,3011.2 2378.5,2980.0 2378.5,2990.6 2253.1,3037.8" fill="#fff" stroke="#1c1c1c" stroke-width="1.0" stroke-linejoin="round"/>
<polyline points="2381.0,2956.0 2381.0,2992.0" fill="none" stroke="#1c1c1c" stroke-width="1.0" stroke-linejoin="round" stroke-linecap="round"/>
<path d="M2321,2991 q-3,10 2,19 q5,2 6,-5 q-2,-8 -5,-14" fill="none" stroke="#1c1c1c" stroke-width="0.9"/>
<polyline points="2216.0,2962.0 2213.0,2990.0 2210.0,3026.0 2202.0,3027.0" fill="none" stroke="#1c1c1c" stroke-width="7.3" stroke-linecap="round" stroke-linejoin="round"/><polyline points="2216.0,2962.0 2213.0,2990.0 2210.0,3026.0 2202.0,3027.0" fill="none" stroke="#fff" stroke-width="5.5" stroke-linecap="round" stroke-linejoin="round"/>
<polyline points="2222.0,2924.0 2218.0,2958.0" fill="none" stroke="#1c1c1c" stroke-width="15.8" stroke-linecap="round" stroke-linejoin="round"/><polyline points="2222.0,2924.0 2218.0,2958.0" fill="none" stroke="#fff" stroke-width="14.0" stroke-linecap="round" stroke-linejoin="round"/>
<polyline points="2220.0,2964.0 2235.0,2968.0 2238.0,3024.0 2248.0,3025.0" fill="none" stroke="#1c1c1c" stroke-width="7.3" stroke-linecap="round" stroke-linejoin="round"/><polyline points="2220.0,2964.0 2235.0,2968.0 2238.0,3024.0 2248.0,3025.0" fill="none" stroke="#fff" stroke-width="5.5" stroke-linecap="round" stroke-linejoin="round"/>
<polyline points="2225.1,2914.0 2222.0,2924.0" fill="none" stroke="#1c1c1c" stroke-width="4.6" stroke-linecap="round" stroke-linejoin="round"/><polyline points="2225.1,2914.0 2222.0,2924.0" fill="none" stroke="#fff" stroke-width="2.8" stroke-linecap="round" stroke-linejoin="round"/>
<ellipse cx="2225.1" cy="2908.1" rx="7.5" ry="8.5" fill="#fff" stroke="#1c1c1c" stroke-width="0.9"/>
<polyline points="2226.0,2928.0 2240.0,2950.0 2256.0,2966.0" fill="none" stroke="#1c1c1c" stroke-width="5.0" stroke-linecap="round" stroke-linejoin="round"/><polyline points="2226.0,2928.0 2240.0,2950.0 2256.0,2966.0" fill="none" stroke="#fff" stroke-width="3.2" stroke-linecap="round" stroke-linejoin="round"/>
<polygon points="2265.8,3017.43 2257.088,3033.71 2274.512,3033.71" fill="#1f1f1f" stroke="#1f1f1f" stroke-width="2.86" stroke-linejoin="round"/><rect x="2264.92" y="3021.74" width="1.76" height="6.70" fill="#fff"/><circle cx="2265.8" cy="3031.31" r="1.10" fill="#fff"/>
<line x1="2215.2" y1="2863.3" x2="2389.4" y2="3002.7" stroke="#8c8c8c" stroke-width="4.0"/><line x1="2389.4" y1="2863.3" x2="2215.2" y2="3002.7" stroke="#8c8c8c" stroke-width="4.0"/>
<polyline points="1374.9,2341.8 1491.0,2357.4" fill="none" stroke="#1c1c1c" stroke-width="1.0" stroke-linejoin="round" stroke-linecap="round"/>
<polyline points="1437.0,2225.0 1469.5,2242.9 1492.0,2246.0" fill="none" stroke="#1c1c1c" stroke-width="6.2" stroke-linecap="round" stroke-linejoin="round"/><polyline points="1437.0,2225.0 1469.5,2242.9 1492.0,2246.0" fill="none" stroke="#fff" stroke-width="4.2" stroke-linecap="round" stroke-linejoin="round"/>
<polyline points="1426.0,2270.0 1449.6,2312.6 1448.0,2362.0 1458.0,2365.0" fill="none" stroke="#1c1c1c" stroke-width="9.5" stroke-linecap="round" stroke-linejoin="round"/><polyline points="1426.0,2270.0 1449.6,2312.6 1448.0,2362.0 1458.0,2365.0" fill="none" stroke="#fff" stroke-width="7.5" stroke-linecap="round" stroke-linejoin="round"/>
<polyline points="1434.0,2226.0 1426.0,2266.0" fill="none" stroke="#1c1c1c" stroke-width="21.0" stroke-linecap="round" stroke-linejoin="round"/><polyline points="1434.0,2226.0 1426.0,2266.0" fill="none" stroke="#fff" stroke-width="19.0" stroke-linecap="round" stroke-linejoin="round"/>
<polyline points="1422.0,2272.0 1444.6,2309.3 1428.0,2350.0 1433.0,2356.0" fill="none" stroke="#1c1c1c" stroke-width="9.5" stroke-linecap="round" stroke-linejoin="round"/><polyline points="1422.0,2272.0 1444.6,2309.3 1428.0,2350.0 1433.0,2356.0" fill="none" stroke="#fff" stroke-width="7.5" stroke-linecap="round" stroke-linejoin="round"/>
<polyline points="1435.6,2210.2 1434.0,2226.0" fill="none" stroke="#1c1c1c" stroke-width="5.9" stroke-linecap="round" stroke-linejoin="round"/><polyline points="1435.6,2210.2 1434.0,2226.0" fill="none" stroke="#fff" stroke-width="3.9" stroke-linecap="round" stroke-linejoin="round"/>
<ellipse cx="1435.6" cy="2201.4" rx="10" ry="12.5" fill="#fff" stroke="#1c1c1c" stroke-width="1.0"/>
<polyline points="1433.0,2228.0 1466.2,2244.6 1482.8,2274.4" fill="none" stroke="#1c1c1c" stroke-width="6.2" stroke-linecap="round" stroke-linejoin="round"/><polyline points="1433.0,2228.0 1466.2,2244.6 1482.8,2274.4" fill="none" stroke="#fff" stroke-width="4.2" stroke-linecap="round" stroke-linejoin="round"/>
<polygon points="1474.5,2279.0 1483.0,2242.0 1495.0,2238.0 1500.0,2245.0 1530.9,2228.0 1520.0,2262.0 1497.0,2276.0 1495.0,2270.0" fill="#fff" stroke="#1c1c1c" stroke-width="1.0" stroke-linejoin="round"/>
<polyline points="1495.0,2238.0 1497.0,2276.0" fill="none" stroke="#1c1c1c" stroke-width="0.8" stroke-linejoin="round" stroke-linecap="round"/>
<polyline points="1500.0,2232.0 1502.0,2226.0 1510.0,2234.0 1516.0,2228.0 1522.0,2232.0 1526.0,2227.0" fill="none" stroke="#1c1c1c" stroke-width="0.8" stroke-linejoin="round" stroke-linecap="round"/>
<polyline points="1482.0,2252.0 1492.0,2250.0" fill="none" stroke="#1c1c1c" stroke-width="0.7" stroke-linejoin="round" stroke-linecap="round"/>
<polyline points="1481.0,2260.0 1491.0,2258.0" fill="none" stroke="#1c1c1c" stroke-width="0.7" stroke-linejoin="round" stroke-linecap="round"/>
<polyline points="1480.0,2268.0 1491.0,2266.0" fill="none" stroke="#1c1c1c" stroke-width="0.7" stroke-linejoin="round" stroke-linecap="round"/>
<polyline points="1503.0,2250.0 1522.0,2240.0" fill="none" stroke="#1c1c1c" stroke-width="0.7" stroke-linejoin="round" stroke-linecap="round"/>
<polyline points="1503.0,2258.0 1520.0,2250.0" fill="none" stroke="#1c1c1c" stroke-width="0.7" stroke-linejoin="round" stroke-linecap="round"/>
<g transform="matrix(0.12854,0.00103,0.00051,0.1296,1595.46,2204.6)" fill="none" stroke="#1c1c1c" stroke-width="1.0" stroke-linejoin="round" stroke-linecap="round" class="nss">
<ellipse cx="440.0" cy="806.5" rx="20.0" ry="8.5"/>
<ellipse cx="1437.5" cy="636.5" rx="22.5" ry="8.5"/>
<ellipse cx="1617.5" cy="559.0" rx="17.5" ry="7.0"/>
<polygon points="45.0,278.0 105.0,268.0 108.0,228.0 140.0,218.0 132.0,190.0 150.0,162.0 185.0,152.0 520.0,112.0 530.0,108.0 815.0,72.0 825.0,70.0 1068.0,42.0 1075.0,46.0 1090.0,108.0 1375.0,150.0 1378.0,155.0 1372.0,275.0 1650.0,330.0 1640.0,555.0 1455.0,640.0 1110.0,545.0 470.0,775.0 465.0,790.0 405.0,808.0 80.0,655.0" fill="#fff"/>
<polyline points="45.0,278.0 375.0,372.0 440.0,365.0"/>
<polyline points="105.0,268.0 440.0,365.0"/>
<polyline points="375.0,372.0 405.0,808.0"/>
<polyline points="440.0,365.0 465.0,785.0"/>
<polyline points="135.0,185.0 160.0,278.0"/>
<polyline points="108.0,228.0 108.0,268.0"/>
<polyline points="520.0,112.0 585.0,345.0"/>
<polyline points="820.0,72.0 870.0,290.0"/>
<polyline points="1075.0,46.0 1110.0,235.0"/>
<polyline points="440.0,375.0 585.0,348.0 870.0,292.0 1110.0,235.0"/>
<polyline points="1092.0,118.0 1345.0,158.0 1378.0,152.0"/>
<polyline points="1345.0,158.0 1335.0,275.0"/>
<polyline points="1110.0,235.0 1335.0,275.0"/>
<polyline points="905.0,288.0 1440.0,405.0 1650.0,330.0"/>
<polyline points="1440.0,405.0 1435.0,635.0"/>
<polyline points="1112.0,425.0 1440.0,500.0 1645.0,428.0"/>
<polyline points="1110.0,335.0 1110.0,545.0"/>
<polyline points="455.0,535.0 1110.0,335.0"/>
<polyline points="460.0,645.0 1110.0,425.0"/>
<path d="M770.0,549.4 C774.8,555.0 778.0,572.5 781.2,581.0 C784.4,590.0 792.0,595.0 799.6,594.5 C806.0,594.0 810.8,590.0 808.8,582.5 C806.0,575.0 797.2,565.0 788.8,545.0 M783.6,554.0 C786.8,565.0 790.0,576.0 794.0,581.0 C798.0,586.0 801.2,590.0 800.0,594.5"/>
<path d="M1545.0,466.2 C1549.8,471.6 1553.0,488.4 1556.2,496.6 C1559.4,505.2 1567.0,510.0 1574.6,509.5 C1581.0,509.0 1585.8,505.2 1583.8,498.0 C1581.0,490.8 1572.2,481.2 1563.8,462.0 M1558.6,470.6 C1561.8,481.2 1565.0,491.8 1569.0,496.6 C1573.0,501.4 1576.2,505.2 1575.0,509.5"/>

</g>
<polyline points="1752.0,2205.0 1746.0,2222.0 1752.0,2240.0" fill="none" stroke="#1c1c1c" stroke-width="4.8" stroke-linecap="round" stroke-linejoin="round"/><polyline points="1752.0,2205.0 1746.0,2222.0 1752.0,2240.0" fill="none" stroke="#fff" stroke-width="3.0" stroke-linecap="round" stroke-linejoin="round"/>
<polyline points="1756.0,2202.0 1772.0,2234.0" fill="none" stroke="#1c1c1c" stroke-width="13.8" stroke-linecap="round" stroke-linejoin="round"/><polyline points="1756.0,2202.0 1772.0,2234.0" fill="none" stroke="#fff" stroke-width="12.0" stroke-linecap="round" stroke-linejoin="round"/>
<polyline points="1776.0,2238.0 1785.0,2245.0 1778.0,2262.0" fill="none" stroke="#1c1c1c" stroke-width="7.3" stroke-linecap="round" stroke-linejoin="round"/><polyline points="1776.0,2238.0 1785.0,2245.0 1778.0,2262.0" fill="none" stroke="#fff" stroke-width="5.5" stroke-linecap="round" stroke-linejoin="round"/>
<polyline points="1750.7,2194.6 1756.0,2202.0" fill="none" stroke="#1c1c1c" stroke-width="4.4" stroke-linecap="round" stroke-linejoin="round"/><polyline points="1750.7,2194.6 1756.0,2202.0" fill="none" stroke="#fff" stroke-width="2.6" stroke-linecap="round" stroke-linejoin="round"/>
<ellipse cx="1750.7" cy="2189" rx="7" ry="8" fill="#fff" stroke="#1c1c1c" stroke-width="0.9"/>
<polyline points="1760.0,2206.0 1770.0,2228.0 1775.0,2242.0" fill="none" stroke="#1c1c1c" stroke-width="4.8" stroke-linecap="round" stroke-linejoin="round"/><polyline points="1760.0,2206.0 1770.0,2228.0 1775.0,2242.0" fill="none" stroke="#fff" stroke-width="3.0" stroke-linecap="round" stroke-linejoin="round"/>
<ellipse cx="1780" cy="2238" rx="8" ry="6" fill="#fff" stroke="#1c1c1c" stroke-width="0.9"/>
<polyline points="1593.0,2268.0 1605.0,2290.0 1620.0,2300.0" fill="none" stroke="#1c1c1c" stroke-width="5.6" stroke-linecap="round" stroke-linejoin="round"/><polyline points="1593.0,2268.0 1605.0,2290.0 1620.0,2300.0" fill="none" stroke="#fff" stroke-width="3.6" stroke-linecap="round" stroke-linejoin="round"/>
<polyline points="1572.0,2301.0 1590.0,2325.0 1604.0,2364.0 1614.0,2364.0" fill="none" stroke="#1c1c1c" stroke-width="8.5" stroke-linecap="round" stroke-linejoin="round"/><polyline points="1572.0,2301.0 1590.0,2325.0 1604.0,2364.0 1614.0,2364.0" fill="none" stroke="#fff" stroke-width="6.5" stroke-linecap="round" stroke-linejoin="round"/>
<polyline points="1596.0,2263.0 1583.0,2298.0" fill="none" stroke="#1c1c1c" stroke-width="19.0" stroke-linecap="round" stroke-linejoin="round"/><polyline points="1596.0,2263.0 1583.0,2298.0" fill="none" stroke="#fff" stroke-width="17.0" stroke-linecap="round" stroke-linejoin="round"/>
<polyline points="1578.0,2303.0 1598.0,2326.0 1588.0,2359.0 1595.0,2363.0" fill="none" stroke="#1c1c1c" stroke-width="8.5" stroke-linecap="round" stroke-linejoin="round"/><polyline points="1578.0,2303.0 1598.0,2326.0 1588.0,2359.0 1595.0,2363.0" fill="none" stroke="#fff" stroke-width="6.5" stroke-linecap="round" stroke-linejoin="round"/>
<polyline points="1604.7,2254.9 1596.0,2263.0" fill="none" stroke="#1c1c1c" stroke-width="5.2" stroke-linecap="round" stroke-linejoin="round"/><polyline points="1604.7,2254.9 1596.0,2263.0" fill="none" stroke="#fff" stroke-width="3.2" stroke-linecap="round" stroke-linejoin="round"/>
<ellipse cx="1604.7" cy="2247.9" rx="8.5" ry="10" fill="#fff" stroke="#1c1c1c" stroke-width="1.0"/>
<polyline points="1598.0,2265.0 1615.0,2287.0 1632.0,2306.0" fill="none" stroke="#1c1c1c" stroke-width="5.6" stroke-linecap="round" stroke-linejoin="round"/><polyline points="1598.0,2265.0 1615.0,2287.0 1632.0,2306.0" fill="none" stroke="#fff" stroke-width="3.6" stroke-linecap="round" stroke-linejoin="round"/>
<ellipse cx="1577" cy="2302" rx="11" ry="10" fill="#fff" stroke="#1c1c1c" stroke-width="1"/>
<line x1="1631.2" y1="2175.8" x2="1798.8" y2="2309.3" stroke="#8c8c8c" stroke-width="4.0"/><line x1="1798.8" y1="2175.8" x2="1631.2" y2="2309.3" stroke="#8c8c8c" stroke-width="4.0"/>
<line x1="1596.1" y1="2303.4" x2="1617.7" y2="2314.2" stroke="#8a8a8a" stroke-width="6.3"/>
<line x1="1624.9" y1="2317.7" x2="1646.5" y2="2328.5" stroke="#8a8a8a" stroke-width="6.3"/>
<polygon points="1657.8,2334.2 1640.8,2334.7 1648.0,2320.3" fill="#8a8a8a"/>
<polygon points="1584.8,2297.7 1594.6,2311.6 1601.8,2297.2" fill="#8a8a8a"/>
<line x1="1689.3" y1="2319.1" x2="1713.8" y2="2308.4" stroke="#8a8a8a" stroke-width="6.3"/>
<line x1="1721.2" y1="2305.2" x2="1745.7" y2="2294.5" stroke="#8a8a8a" stroke-width="6.3"/>
<polygon points="1757.3,2289.4 1746.8,2302.8 1740.4,2288.0" fill="#8a8a8a"/>
<polygon points="1677.7,2324.2 1694.6,2325.6 1688.2,2310.8" fill="#8a8a8a"/>
<polygon points="1897.0,2243.0 1903.0,2240.0 1901.3,2229.7 1989.2,2218.0 1996.7,2247.1 2027.3,2253.7 2026.5,2281.1 1943.6,2311.8 1936.1,2314.3 1905.0,2297.0" fill="#fff" stroke="#1c1c1c" stroke-width="1.0" stroke-linejoin="round"/>
<polyline points="1897.0,2243.0 1931.1,2257.9 1940.3,2257.9" fill="none" stroke="#1c1c1c" stroke-width="1.0" stroke-linejoin="round" stroke-linecap="round"/>
<polyline points="1903.0,2240.0 1940.3,2257.9" fill="none" stroke="#1c1c1c" stroke-width="1.0" stroke-linejoin="round" stroke-linecap="round"/>
<polyline points="1931.1,2257.9 1936.1,2314.3" fill="none" stroke="#1c1c1c" stroke-width="1.0" stroke-linejoin="round" stroke-linecap="round"/>
<polyline points="1940.3,2257.9 1943.6,2311.8" fill="none" stroke="#1c1c1c" stroke-width="1.0" stroke-linejoin="round" stroke-linecap="round"/>
<polyline points="1951.9,2222.7 1959.3,2255.4" fill="none" stroke="#1c1c1c" stroke-width="1.0" stroke-linejoin="round" stroke-linecap="round"/>
<polyline points="1941.1,2259.5 1959.3,2255.4 1996.7,2247.1" fill="none" stroke="#1c1c1c" stroke-width="1.0" stroke-linejoin="round" stroke-linecap="round"/>
<polyline points="1942.7,2279.4 2026.5,2256.2" fill="none" stroke="#1c1c1c" stroke-width="1.0" stroke-linejoin="round" stroke-linecap="round"/>
<polyline points="1943.6,2294.4 2026.5,2267.0" fill="none" stroke="#1c1c1c" stroke-width="1.0" stroke-linejoin="round" stroke-linecap="round"/>
<polyline points="1994.0,2214.0 1990.0,2234.0 1995.0,2250.0" fill="none" stroke="#1c1c1c" stroke-width="4.8" stroke-linecap="round" stroke-linejoin="round"/><polyline points="1994.0,2214.0 1990.0,2234.0 1995.0,2250.0" fill="none" stroke="#fff" stroke-width="3.0" stroke-linecap="round" stroke-linejoin="round"/>
<polyline points="1997.0,2211.0 2013.0,2244.0" fill="none" stroke="#1c1c1c" stroke-width="13.8" stroke-linecap="round" stroke-linejoin="round"/><polyline points="1997.0,2211.0 2013.0,2244.0" fill="none" stroke="#fff" stroke-width="12.0" stroke-linecap="round" stroke-linejoin="round"/>
<polyline points="2016.0,2248.0 2024.0,2236.0 2028.0,2248.0" fill="none" stroke="#1c1c1c" stroke-width="7.3" stroke-linecap="round" stroke-linejoin="round"/><polyline points="2016.0,2248.0 2024.0,2236.0 2028.0,2248.0" fill="none" stroke="#fff" stroke-width="5.5" stroke-linecap="round" stroke-linejoin="round"/>
<polyline points="1991.7,2203.8 1997.0,2211.0" fill="none" stroke="#1c1c1c" stroke-width="4.4" stroke-linecap="round" stroke-linejoin="round"/><polyline points="1991.7,2203.8 1997.0,2211.0" fill="none" stroke="#fff" stroke-width="2.6" stroke-linecap="round" stroke-linejoin="round"/>
<ellipse cx="1991.7" cy="2198.2" rx="7" ry="8" fill="#fff" stroke="#1c1c1c" stroke-width="0.9"/>
<polyline points="2000.0,2215.0 2010.0,2235.0 2012.0,2250.0" fill="none" stroke="#1c1c1c" stroke-width="4.8" stroke-linecap="round" stroke-linejoin="round"/><polyline points="2000.0,2215.0 2010.0,2235.0 2012.0,2250.0" fill="none" stroke="#fff" stroke-width="3.0" stroke-linecap="round" stroke-linejoin="round"/>
<ellipse cx="2018" cy="2240" rx="8" ry="6" fill="#fff" stroke="#1c1c1c" stroke-width="0.9"/>
<polyline points="1880.0,2270.0 1895.0,2295.0 1915.0,2305.0" fill="none" stroke="#1c1c1c" stroke-width="5.6" stroke-linecap="round" stroke-linejoin="round"/><polyline points="1880.0,2270.0 1895.0,2295.0 1915.0,2305.0" fill="none" stroke="#fff" stroke-width="3.6" stroke-linecap="round" stroke-linejoin="round"/>
<polyline points="1855.0,2302.0 1878.0,2330.0 1895.0,2368.0 1902.0,2368.0" fill="none" stroke="#1c1c1c" stroke-width="8.5" stroke-linecap="round" stroke-linejoin="round"/><polyline points="1855.0,2302.0 1878.0,2330.0 1895.0,2368.0 1902.0,2368.0" fill="none" stroke="#fff" stroke-width="6.5" stroke-linecap="round" stroke-linejoin="round"/>
<polyline points="1882.0,2268.0 1867.0,2302.0" fill="none" stroke="#1c1c1c" stroke-width="19.0" stroke-linecap="round" stroke-linejoin="round"/><polyline points="1882.0,2268.0 1867.0,2302.0" fill="none" stroke="#fff" stroke-width="17.0" stroke-linecap="round" stroke-linejoin="round"/>
<polyline points="1862.0,2305.0 1885.0,2328.0 1877.0,2362.0 1883.0,2365.0" fill="none" stroke="#1c1c1c" stroke-width="8.5" stroke-linecap="round" stroke-linejoin="round"/><polyline points="1862.0,2305.0 1885.0,2328.0 1877.0,2362.0 1883.0,2365.0" fill="none" stroke="#fff" stroke-width="6.5" stroke-linecap="round" stroke-linejoin="round"/>
<polyline points="1891.3,2259.9 1882.0,2268.0" fill="none" stroke="#1c1c1c" stroke-width="5.2" stroke-linecap="round" stroke-linejoin="round"/><polyline points="1891.3,2259.9 1882.0,2268.0" fill="none" stroke="#fff" stroke-width="3.2" stroke-linecap="round" stroke-linejoin="round"/>
<ellipse cx="1891.3" cy="2252.9" rx="8.5" ry="10" fill="#fff" stroke="#1c1c1c" stroke-width="1.0"/>
<polyline points="1885.0,2268.0 1905.0,2290.0 1925.0,2312.0" fill="none" stroke="#1c1c1c" stroke-width="5.6" stroke-linecap="round" stroke-linejoin="round"/><polyline points="1885.0,2268.0 1905.0,2290.0 1925.0,2312.0" fill="none" stroke="#fff" stroke-width="3.6" stroke-linecap="round" stroke-linejoin="round"/>
<ellipse cx="1862" cy="2305" rx="11" ry="10" fill="#fff" stroke="#1c1c1c" stroke-width="1"/>
<line x1="1882.5" y1="2307.1" x2="1904.0" y2="2319.0" stroke="#8a8a8a" stroke-width="6.3"/>
<line x1="1911.0" y1="2322.8" x2="1932.5" y2="2334.7" stroke="#8a8a8a" stroke-width="6.3"/>
<polygon points="1943.6,2340.8 1926.6,2340.6 1934.4,2326.5" fill="#8a8a8a"/>
<polygon points="1871.4,2301.0 1880.6,2315.3 1888.4,2301.2" fill="#8a8a8a"/>
<line x1="1974.4" y1="2325.1" x2="1999.2" y2="2314.6" stroke="#8a8a8a" stroke-width="6.3"/>
<line x1="2006.6" y1="2311.4" x2="2031.4" y2="2300.9" stroke="#8a8a8a" stroke-width="6.3"/>
<polygon points="2043.1,2296.0 2032.5,2309.2 2026.2,2294.4" fill="#8a8a8a"/>
<polygon points="1962.7,2330.0 1979.6,2331.6 1973.3,2316.8" fill="#8a8a8a"/>
<polygon points="2072.5,2212.0 2078.0,2205.0 2152.0,2218.0 2154.0,2232.0 2192.0,2244.6 2190.3,2281.0 2175.0,2283.0 2094.0,2258.0" fill="#fff" stroke="#1c1c1c" stroke-width="1.0" stroke-linejoin="round"/>
<polyline points="2094.1,2229.6 2176.0,2245.0 2192.0,2244.6" fill="none" stroke="#1c1c1c" stroke-width="1.0" stroke-linejoin="round" stroke-linecap="round"/>
<polyline points="2176.0,2245.0 2175.0,2283.0" fill="none" stroke="#1c1c1c" stroke-width="1.0" stroke-linejoin="round" stroke-linecap="round"/>
<polyline points="2094.0,2244.0 2176.0,2262.0 2191.0,2262.0" fill="none" stroke="#1c1c1c" stroke-width="1.0" stroke-linejoin="round" stroke-linecap="round"/>
<polygon points="2076.0,2205.0 2100.0,2196.0 2115.0,2200.0 2120.0,2230.0 2090.0,2232.0" fill="#fff" stroke="#1c1c1c" stroke-width="1.0" stroke-linejoin="round"/>
<path d="M2180,2265 q-2,6 2,10 q4,0 3,-5" fill="none" stroke="#1c1c1c" stroke-width="0.8"/>
<polyline points="2141.0,2189.0 2135.0,2208.0 2140.0,2225.0" fill="none" stroke="#1c1c1c" stroke-width="4.8" stroke-linecap="round" stroke-linejoin="round"/><polyline points="2141.0,2189.0 2135.0,2208.0 2140.0,2225.0" fill="none" stroke="#fff" stroke-width="3.0" stroke-linecap="round" stroke-linejoin="round"/>
<polyline points="2144.0,2186.0 2160.0,2220.0" fill="none" stroke="#1c1c1c" stroke-width="13.8" stroke-linecap="round" stroke-linejoin="round"/><polyline points="2144.0,2186.0 2160.0,2220.0" fill="none" stroke="#fff" stroke-width="12.0" stroke-linecap="round" stroke-linejoin="round"/>
<polyline points="2162.0,2224.0 2172.0,2232.0 2168.0,2245.0" fill="none" stroke="#1c1c1c" stroke-width="7.3" stroke-linecap="round" stroke-linejoin="round"/><polyline points="2162.0,2224.0 2172.0,2232.0 2168.0,2245.0" fill="none" stroke="#fff" stroke-width="5.5" stroke-linecap="round" stroke-linejoin="round"/>
<polyline points="2137.0,2178.6 2144.0,2186.0" fill="none" stroke="#1c1c1c" stroke-width="4.4" stroke-linecap="round" stroke-linejoin="round"/><polyline points="2137.0,2178.6 2144.0,2186.0" fill="none" stroke="#fff" stroke-width="2.6" stroke-linecap="round" stroke-linejoin="round"/>
<ellipse cx="2137" cy="2173" rx="7" ry="8" fill="#fff" stroke="#1c1c1c" stroke-width="0.9"/>
<polyline points="2147.0,2190.0 2158.0,2208.0 2156.0,2225.0" fill="none" stroke="#1c1c1c" stroke-width="4.8" stroke-linecap="round" stroke-linejoin="round"/><polyline points="2147.0,2190.0 2158.0,2208.0 2156.0,2225.0" fill="none" stroke="#fff" stroke-width="3.0" stroke-linecap="round" stroke-linejoin="round"/>
<ellipse cx="2166" cy="2224" rx="8" ry="6" fill="#fff" stroke="#1c1c1c" stroke-width="0.9"/>
<polyline points="2065.0,2278.0 2082.0,2303.0 2078.0,2330.0 2086.0,2332.0" fill="none" stroke="#1c1c1c" stroke-width="8.5" stroke-linecap="round" stroke-linejoin="round"/><polyline points="2065.0,2278.0 2082.0,2303.0 2078.0,2330.0 2086.0,2332.0" fill="none" stroke="#fff" stroke-width="6.5" stroke-linecap="round" stroke-linejoin="round"/>
<polyline points="2085.0,2228.0 2068.0,2265.0" fill="none" stroke="#1c1c1c" stroke-width="19.0" stroke-linecap="round" stroke-linejoin="round"/><polyline points="2085.0,2228.0 2068.0,2265.0" fill="none" stroke="#fff" stroke-width="17.0" stroke-linecap="round" stroke-linejoin="round"/>
<polyline points="2070.0,2282.0 2095.0,2305.0 2100.0,2330.0 2106.0,2331.0" fill="none" stroke="#1c1c1c" stroke-width="8.5" stroke-linecap="round" stroke-linejoin="round"/><polyline points="2070.0,2282.0 2095.0,2305.0 2100.0,2330.0 2106.0,2331.0" fill="none" stroke="#fff" stroke-width="6.5" stroke-linecap="round" stroke-linejoin="round"/>
<polyline points="2092.0,2219.0 2085.0,2228.0" fill="none" stroke="#1c1c1c" stroke-width="5.2" stroke-linecap="round" stroke-linejoin="round"/><polyline points="2092.0,2219.0 2085.0,2228.0" fill="none" stroke="#fff" stroke-width="3.2" stroke-linecap="round" stroke-linejoin="round"/>
<ellipse cx="2092" cy="2212" rx="8.5" ry="10" fill="#fff" stroke="#1c1c1c" stroke-width="1.0"/>
<polyline points="2090.0,2232.0 2110.0,2255.0 2125.0,2270.0" fill="none" stroke="#1c1c1c" stroke-width="5.6" stroke-linecap="round" stroke-linejoin="round"/><polyline points="2090.0,2232.0 2110.0,2255.0 2125.0,2270.0" fill="none" stroke="#fff" stroke-width="3.6" stroke-linecap="round" stroke-linejoin="round"/>
<ellipse cx="2063" cy="2276" rx="11" ry="10" fill="#fff" stroke="#1c1c1c" stroke-width="1"/>
<line x1="2084.4" y1="2282.0" x2="2102.7" y2="2288.8" stroke="#8a8a8a" stroke-width="6.3"/>
<line x1="2110.3" y1="2291.5" x2="2128.6" y2="2298.3" stroke="#8a8a8a" stroke-width="6.3"/>
<polygon points="2140.5,2302.6 2123.7,2305.0 2129.2,2289.9" fill="#8a8a8a"/>
<line x1="2168.4" y1="2303.8" x2="2193.3" y2="2291.9" stroke="#8a8a8a" stroke-width="6.3"/>
<line x1="2200.5" y1="2288.5" x2="2225.4" y2="2276.6" stroke="#8a8a8a" stroke-width="6.3"/>
<polygon points="2236.8,2271.1 2226.8,2284.8 2219.8,2270.3" fill="#8a8a8a"/>
<polygon points="2157.0,2309.3 2174.0,2310.1 2167.0,2295.6" fill="#8a8a8a"/>
<g transform="matrix(0.11256190904997748,0,0,0.11256190904997748,2253.9,2183.9)" fill="none" stroke="#1c1c1c" stroke-width="1.0" stroke-linejoin="round" stroke-linecap="round" class="nss">
<ellipse cx="195" cy="1225" rx="18" ry="10"/>
<ellipse cx="550" cy="1385" rx="18" ry="10"/>
<ellipse cx="1085" cy="1625" rx="18" ry="10"/>
<ellipse cx="1520" cy="1400" rx="18" ry="10"/>
<polygon points="70.0,590.0 500.0,520.0 505.0,540.0 200.0,980.0 165.0,1010.0 165.0,1170.0 110.0,1175.0" fill="#fff"/>
<polygon points="165.0,1000.0 250.0,985.0 700.0,880.0 1010.0,990.0 1555.0,1170.0 1555.0,1385.0 1095.0,1620.0 580.0,1385.0 165.0,1170.0" fill="#fff"/>
<polyline points="165.0,1020.0 570.0,1160.0 1095.0,1360.0 1555.0,1185.0"/>
<polyline points="570.0,1160.0 580.0,1385.0"/>
<polyline points="1095.0,1360.0 1095.0,1620.0"/>
<polyline points="205.0,1000.0 570.0,1140.0 1095.0,1340.0 1520.0,1170.0"/>
<polyline points="470.0,1100.0 660.0,1055.0 1000.0,1150.0"/>
<polyline points="620.0,900.0 620.0,1050.0"/>
<polyline points="660.0,895.0 660.0,1050.0"/>
<polyline points="800.0,1250.0 1000.0,1180.0"/>
<polyline points="350.0,970.0 700.0,880.0"/>
<polyline points="1270.0,270.0 1285.0,330.0 1300.0,365.0 1310.0,330.0 1290.0,270.0"/>
<polygon points="200.0,860.0 935.0,95.0 1435.0,75.0 1505.0,235.0 880.0,740.0 250.0,985.0" fill="#fff"/>
<polyline points="110.0,600.0 500.0,530.0"/>
<polyline points="110.0,600.0 165.0,1165.0"/>
<polyline points="935.0,95.0 1005.0,280.0 1505.0,235.0"/>
<polyline points="1005.0,280.0 250.0,985.0"/>
</g>
<circle cx="2377.2" cy="2268.9" r="12.4" fill="none" stroke="#1f1f1f" stroke-width="5"/>
<path d="M2368,2277.5 L2386.5,2277.5 L2402,2317 Q2404,2324.6 2397,2324.6 L2357,2324.6 Q2350,2324.6 2352,2317 Z" fill="#1f1f1f"/>
<text x="2364.8" y="2311.7" font-family="Liberation Sans" font-weight="bold" font-size="11.5" fill="#fff" textLength="24.8" lengthAdjust="spacingAndGlyphs">5 кг.</text>
<text x="2353" y="2321.8" font-family="Liberation Sans" font-weight="bold" font-size="6.3" fill="#fff" textLength="48.4" lengthAdjust="spacingAndGlyphs">максимально</text>
<line x1="1632" y1="2176.5" x2="1632" y2="2176.5" stroke="#8c8c8c" stroke-width="0.01"/><line x1="1632" y1="2176.5" x2="1632" y2="2176.5" stroke="#8c8c8c" stroke-width="0.01"/>
<ellipse cx="317.3" cy="779.5" rx="7.3" ry="3.5" fill="#fff" stroke="#1c1c1c" stroke-width="1.04"/>
<ellipse cx="857.8" cy="715.0" rx="8.8" ry="3.0" fill="#fff" stroke="#1c1c1c" stroke-width="1.04"/>
<ellipse cx="982.0" cy="667.5" rx="6.0" ry="2.5" fill="#fff" stroke="#1c1c1c" stroke-width="1.04"/>
<polygon points="166.5,502.5 199.3,498.0 199.3,474.5 205.0,473.3 211.5,474.0 208.6,463.0 211.0,457.5 217.0,453.5 225.0,451.3 413.9,427.3 417.0,426.8 419.3,427.3 573.9,407.3 703.0,388.5 707.0,389.5 708.5,392.0 717.3,426.8 888.0,458.6 890.6,461.0 889.3,528.6 994.5,555.8 995.9,558.5 993.2,604.0 989.2,665.3 857.3,714.6 712.5,655.4 338.0,768.0 338.0,773.3 302.0,781.3 186.0,686.6" fill="#62615f" stroke="#1c1c1c" stroke-width="1.3" stroke-linejoin="round"/>
<polyline points="166.5,502.5 294.0,567.8 329.2,561.4" fill="none" stroke="#1c1c1c" stroke-width="1.3" stroke-linejoin="round" stroke-linecap="round"/>
<polyline points="199.3,498.0 329.2,561.4" fill="none" stroke="#1c1c1c" stroke-width="1.3" stroke-linejoin="round" stroke-linecap="round"/>
<polyline points="294.0,567.8 302.0,781.3" fill="none" stroke="#1c1c1c" stroke-width="1.3" stroke-linejoin="round" stroke-linecap="round"/>
<polyline points="329.2,561.4 338.0,773.3" fill="none" stroke="#1c1c1c" stroke-width="1.3" stroke-linejoin="round" stroke-linecap="round"/>
<polyline points="199.3,474.5 199.3,498.0" fill="none" stroke="#1c1c1c" stroke-width="1.3" stroke-linejoin="round" stroke-linecap="round"/>
<polyline points="205.0,474.0 213.0,500.0" fill="none" stroke="#1c1c1c" stroke-width="1.3" stroke-linejoin="round" stroke-linecap="round"/>
<polyline points="208.6,463.0 218.8,504.6" fill="none" stroke="#1c1c1c" stroke-width="1.3" stroke-linejoin="round" stroke-linecap="round"/>
<polyline points="416.0,427.5 446.0,555.0 449.0,560.5 452.0,561.0" fill="none" stroke="#1c1c1c" stroke-width="1.3" stroke-linejoin="round" stroke-linecap="round"/>
<polyline points="335.3,586.5 446.0,562.5 449.0,561.0" fill="none" stroke="#1c1c1c" stroke-width="1.3" stroke-linejoin="round" stroke-linecap="round"/>
<polyline points="452.0,561.0 601.3,529.4" fill="none" stroke="#1c1c1c" stroke-width="1.3" stroke-linejoin="round" stroke-linecap="round"/>
<polyline points="573.9,407.3 601.3,529.4" fill="none" stroke="#1c1c1c" stroke-width="1.3" stroke-linejoin="round" stroke-linecap="round"/>
<polyline points="601.3,529.4 728.0,497.5 732.0,494.0 708.5,392.0" fill="none" stroke="#1c1c1c" stroke-width="1.3" stroke-linejoin="round" stroke-linecap="round"/>
<polyline points="718.6,435.3 870.6,465.4 890.6,459.3" fill="none" stroke="#1c1c1c" stroke-width="1.3" stroke-linejoin="round" stroke-linecap="round"/>
<polyline points="870.6,465.4 868.0,524.1" fill="none" stroke="#1c1c1c" stroke-width="1.3" stroke-linejoin="round" stroke-linecap="round"/>
<polyline points="733.3,490.5 868.0,524.1" fill="none" stroke="#1c1c1c" stroke-width="1.3" stroke-linejoin="round" stroke-linecap="round"/>
<polyline points="632.0,524.1 863.9,595.3 995.9,556.6" fill="none" stroke="#1c1c1c" stroke-width="1.3" stroke-linejoin="round" stroke-linecap="round"/>
<polyline points="863.9,595.3 857.3,714.6" fill="none" stroke="#1c1c1c" stroke-width="1.3" stroke-linejoin="round" stroke-linecap="round"/>
<polyline points="713.3,594.7 860.0,642.6 993.2,604.0" fill="none" stroke="#1c1c1c" stroke-width="1.3" stroke-linejoin="round" stroke-linecap="round"/>
<polyline points="713.3,551.3 712.5,655.4" fill="none" stroke="#1c1c1c" stroke-width="1.3" stroke-linejoin="round" stroke-linecap="round"/>
<polyline points="334.0,633.3 713.3,551.3" fill="none" stroke="#1c1c1c" stroke-width="1.3" stroke-linejoin="round" stroke-linecap="round"/>
<polyline points="334.0,686.6 712.5,594.7" fill="none" stroke="#1c1c1c" stroke-width="1.3" stroke-linejoin="round" stroke-linecap="round"/>
<path d="M536.6,638.9 C540.1,642.7 542.5,654.3 544.8,660.0 C547.1,666.0 552.7,669.3 558.3,669.0 C563.0,668.6 566.5,666.0 565.0,661.0 C563.0,656.0 556.5,649.3 550.4,636.0 M546.6,642.0 C548.9,649.3 551.2,656.6 554.2,660.0 C557.1,663.3 559.5,666.0 558.6,669.0" fill="none" stroke="#1c1c1c" stroke-width="1.3"/>
<path d="M926.6,624.8 C929.0,627.7 930.6,636.6 932.2,640.9 C933.8,645.5 937.6,648.0 941.4,647.7 C944.6,647.5 947.0,645.5 946.0,641.6 C944.6,637.8 940.2,632.8 936.0,622.6 M933.4,627.2 C935.0,632.8 936.6,638.3 938.6,640.9 C940.6,643.4 942.2,645.5 941.6,647.7" fill="none" stroke="#1c1c1c" stroke-width="1.3"/>
<ellipse cx="430.3" cy="1335.5" rx="7.3" ry="3.5" fill="#fff" stroke="#1c1c1c" stroke-width="1.04"/>
<ellipse cx="970.0" cy="1270.0" rx="8.0" ry="3.0" fill="#fff" stroke="#1c1c1c" stroke-width="1.04"/>
<ellipse cx="1095.0" cy="1223.5" rx="6.0" ry="2.5" fill="#fff" stroke="#1c1c1c" stroke-width="1.04"/>
<ellipse cx="459.6" cy="1301.8" rx="5.9" ry="4.2" fill="#fff" stroke="#1c1c1c" stroke-width="1.04"/>
<polygon points="279.5,1058.5 312.3,1054.0 312.3,1030.5 318.0,1029.3 324.5,1030.0 321.6,1019.0 324.0,1013.5 330.0,1009.5 338.0,1007.3 526.9,983.3 530.0,982.8 532.3,983.3 686.9,963.3 816.0,944.5 820.0,945.5 821.5,948.0 830.1,981.8 1008.0,1015.3 1010.8,1018.0 1007.8,1086.0 1107.5,1111.8 1108.9,1114.5 1106.2,1160.0 1102.2,1221.3 970.3,1270.6 825.5,1211.4 826.3,1107.3 447.0,1189.3 451.0,1329.3 415.0,1337.3 299.0,1242.6" fill="#62615f" stroke="#1c1c1c" stroke-width="1.3" stroke-linejoin="round"/>
<polygon points="445.2,1191.2 823.4,1107.4 966.9,1154.0 966.9,1192.9 566.8,1307.7 446.9,1243.5" fill="#62615f" stroke="#1c1c1c" stroke-width="1.3" stroke-linejoin="round"/>
<polygon points="566.8,1307.7 966.9,1192.9 963.5,1201.3 565.0,1319.5" fill="#62615f" stroke="#1c1c1c" stroke-width="1.3" stroke-linejoin="round"/>
<polygon points="565.0,1319.5 963.5,1201.3 961.8,1268.8 568.4,1409.0" fill="#62615f" stroke="#1c1c1c" stroke-width="1.3" stroke-linejoin="round"/>
<polygon points="279.5,1058.5 407.0,1123.8 415.0,1337.3 299.0,1242.6" fill="#62615f" stroke="#1c1c1c" stroke-width="1.3" stroke-linejoin="round"/>
<polygon points="407.0,1123.8 442.2,1117.4 451.0,1329.3 415.0,1337.3" fill="#62615f" stroke="#1c1c1c" stroke-width="1.3" stroke-linejoin="round"/>
<path d="M550,1362 L550,1385 Q551,1400 562,1401 L566,1398 L566,1366 Z" fill="#fff" stroke="#1c1c1c" stroke-width="1"/>
<circle cx="557" cy="1386" r="5" fill="none" stroke="#1c1c1c" stroke-width="1"/>
<polyline points="279.5,1058.5 407.0,1123.8 442.2,1117.4" fill="none" stroke="#1c1c1c" stroke-width="1.3" stroke-linejoin="round" stroke-linecap="round"/>
<polyline points="312.3,1054.0 442.2,1117.4" fill="none" stroke="#1c1c1c" stroke-width="1.3" stroke-linejoin="round" stroke-linecap="round"/>
<polyline points="407.0,1123.8 415.0,1337.3" fill="none" stroke="#1c1c1c" stroke-width="1.3" stroke-linejoin="round" stroke-linecap="round"/>
<polyline points="442.2,1117.4 451.0,1329.3" fill="none" stroke="#1c1c1c" stroke-width="1.3" stroke-linejoin="round" stroke-linecap="round"/>
<polyline points="312.3,1030.5 312.3,1054.0" fill="none" stroke="#1c1c1c" stroke-width="1.3" stroke-linejoin="round" stroke-linecap="round"/>
<polyline points="318.0,1030.0 326.0,1056.0" fill="none" stroke="#1c1c1c" stroke-width="1.3" stroke-linejoin="round" stroke-linecap="round"/>
<polyline points="321.6,1019.0 331.8,1060.6" fill="none" stroke="#1c1c1c" stroke-width="1.3" stroke-linejoin="round" stroke-linecap="round"/>
<polyline points="529.0,983.5 559.0,1111.0 562.0,1116.5 565.0,1117.0" fill="none" stroke="#1c1c1c" stroke-width="1.3" stroke-linejoin="round" stroke-linecap="round"/>
<polyline points="448.3,1142.5 559.0,1118.5 562.0,1117.0" fill="none" stroke="#1c1c1c" stroke-width="1.3" stroke-linejoin="round" stroke-linecap="round"/>
<polyline points="565.0,1117.0 714.3,1085.4" fill="none" stroke="#1c1c1c" stroke-width="1.3" stroke-linejoin="round" stroke-linecap="round"/>
<polyline points="686.9,963.3 714.3,1085.4" fill="none" stroke="#1c1c1c" stroke-width="1.3" stroke-linejoin="round" stroke-linecap="round"/>
<polyline points="714.3,1085.4 841.0,1053.5 845.0,1050.0 821.5,948.0" fill="none" stroke="#1c1c1c" stroke-width="1.3" stroke-linejoin="round" stroke-linecap="round"/>
<polyline points="745.0,1080.1 976.9,1151.3 1108.9,1112.6" fill="none" stroke="#1c1c1c" stroke-width="1.3" stroke-linejoin="round" stroke-linecap="round"/>
<polyline points="976.9,1151.3 970.3,1270.6" fill="none" stroke="#1c1c1c" stroke-width="1.3" stroke-linejoin="round" stroke-linecap="round"/>
<polyline points="973.0,1198.6 1106.2,1160.0" fill="none" stroke="#1c1c1c" stroke-width="1.3" stroke-linejoin="round" stroke-linecap="round"/>
<polyline points="447.0,1189.3 826.3,1107.3" fill="none" stroke="#1c1c1c" stroke-width="1.3" stroke-linejoin="round" stroke-linecap="round"/>
<polyline points="831.8,991.3 990.6,1022.7 1010.8,1016.1" fill="none" stroke="#1c1c1c" stroke-width="1.3" stroke-linejoin="round" stroke-linecap="round"/>
<polyline points="990.6,1022.7 987.7,1081.3" fill="none" stroke="#1c1c1c" stroke-width="1.3" stroke-linejoin="round" stroke-linecap="round"/>
<polyline points="845.5,1045.2 987.7,1081.3" fill="none" stroke="#1c1c1c" stroke-width="1.3" stroke-linejoin="round" stroke-linecap="round"/>
<polyline points="445.2,1191.2 565.1,1253.6 966.9,1154.0" fill="none" stroke="#1c1c1c" stroke-width="1.3" stroke-linejoin="round" stroke-linecap="round"/>
<polyline points="447.0,1194.5 823.4,1110.5" fill="none" stroke="#1c1c1c" stroke-width="1.3" stroke-linejoin="round" stroke-linecap="round"/>
<polyline points="565.1,1253.6 566.8,1307.7" fill="none" stroke="#1c1c1c" stroke-width="1.3" stroke-linejoin="round" stroke-linecap="round"/>
<polyline points="966.9,1154.0 966.9,1192.9" fill="none" stroke="#1c1c1c" stroke-width="1.3" stroke-linejoin="round" stroke-linecap="round"/>
<polyline points="976.9,1151.3 976.9,1190.0 970.0,1270.0" fill="none" stroke="#1c1c1c" stroke-width="1.3" stroke-linejoin="round" stroke-linecap="round"/>
<polyline points="446.9,1243.5 566.8,1307.7" fill="none" stroke="#1c1c1c" stroke-width="1.3" stroke-linejoin="round" stroke-linecap="round"/>
<polyline points="565.0,1319.5 963.5,1201.3" fill="none" stroke="#1c1c1c" stroke-width="1.3" stroke-linejoin="round" stroke-linecap="round"/>
<polyline points="566.0,1322.0 963.0,1204.5" fill="none" stroke="#1c1c1c" stroke-width="1.3" stroke-linejoin="round" stroke-linecap="round"/>
<polyline points="565.0,1319.5 565.5,1408.0" fill="none" stroke="#1c1c1c" stroke-width="1.3" stroke-linejoin="round" stroke-linecap="round"/>
<polyline points="450.3,1279.0 565.0,1356.6" fill="none" stroke="#1c1c1c" stroke-width="1.3" stroke-linejoin="round" stroke-linecap="round"/>
<polyline points="450.3,1290.8 561.7,1363.4" fill="none" stroke="#1c1c1c" stroke-width="1.3" stroke-linejoin="round" stroke-linecap="round"/>
<polyline points="511.0,1279.0 565.0,1366.8" fill="none" stroke="#1c1c1c" stroke-width="1.3" stroke-linejoin="round" stroke-linecap="round"/>
<polyline points="516.0,1275.6 565.0,1350.0" fill="none" stroke="#1c1c1c" stroke-width="1.3" stroke-linejoin="round" stroke-linecap="round"/>
<polyline points="565.0,1306.0 589.0,1306.0 590.0,1315.0" fill="none" stroke="#1c1c1c" stroke-width="1.3" stroke-linejoin="round" stroke-linecap="round"/>
<path d="M779.5,1261.0 C783.2,1268.6 785.6,1292.4 788.0,1304.0 C790.5,1316.2 796.3,1323.0 802.1,1322.3 C807.0,1321.6 810.6,1316.2 809.1,1306.0 C807.0,1295.8 800.2,1282.2 793.8,1255.0 M789.9,1267.2 C792.3,1282.2 794.8,1297.2 797.8,1304.0 C800.9,1310.8 803.3,1316.2 802.4,1322.3" fill="none" stroke="#1c1c1c" stroke-width="1.3"/>
<path d="M1039.6,1180.8 C1042.0,1183.7 1043.6,1192.6 1045.2,1196.9 C1046.8,1201.5 1050.6,1204.0 1054.4,1203.7 C1057.6,1203.5 1060.0,1201.5 1059.0,1197.7 C1057.6,1193.8 1053.2,1188.8 1049.0,1178.6 M1046.4,1183.2 C1048.0,1188.8 1049.6,1194.3 1051.6,1196.9 C1053.6,1199.4 1055.2,1201.5 1054.6,1203.7" fill="none" stroke="#1c1c1c" stroke-width="1.3"/>
<g transform="matrix(-0.8505,0,0,0.843,2525.85,398.7)"><ellipse cx="317.3" cy="779.5" rx="7.3" ry="3.5" fill="#fff" stroke="#1c1c1c" stroke-width="1.2000000000000002"/>
<ellipse cx="857.8" cy="715.0" rx="8.8" ry="3.0" fill="#fff" stroke="#1c1c1c" stroke-width="1.2000000000000002"/>
<ellipse cx="982.0" cy="667.5" rx="6.0" ry="2.5" fill="#fff" stroke="#1c1c1c" stroke-width="1.2000000000000002"/>
<polygon points="166.5,502.5 199.3,498.0 199.3,474.5 205.0,473.3 211.5,474.0 208.6,463.0 211.0,457.5 217.0,453.5 225.0,451.3 413.9,427.3 417.0,426.8 419.3,427.3 573.9,407.3 703.0,388.5 707.0,389.5 708.5,392.0 717.3,426.8 888.0,458.6 890.6,461.0 889.3,528.6 994.5,555.8 995.9,558.5 993.2,604.0 989.2,665.3 857.3,714.6 712.5,655.4 338.0,768.0 338.0,773.3 302.0,781.3 186.0,686.6" fill="#62615f" stroke="#1c1c1c" stroke-width="1.5" stroke-linejoin="round"/>
<polyline points="166.5,502.5 294.0,567.8 329.2,561.4" fill="none" stroke="#1c1c1c" stroke-width="1.5" stroke-linejoin="round" stroke-linecap="round"/>
<polyline points="199.3,498.0 329.2,561.4" fill="none" stroke="#1c1c1c" stroke-width="1.5" stroke-linejoin="round" stroke-linecap="round"/>
<polyline points="294.0,567.8 302.0,781.3" fill="none" stroke="#1c1c1c" stroke-width="1.5" stroke-linejoin="round" stroke-linecap="round"/>
<polyline points="329.2,561.4 338.0,773.3" fill="none" stroke="#1c1c1c" stroke-width="1.5" stroke-linejoin="round" stroke-linecap="round"/>
<polyline points="199.3,474.5 199.3,498.0" fill="none" stroke="#1c1c1c" stroke-width="1.5" stroke-linejoin="round" stroke-linecap="round"/>
<polyline points="205.0,474.0 213.0,500.0" fill="none" stroke="#1c1c1c" stroke-width="1.5" stroke-linejoin="round" stroke-linecap="round"/>
<polyline points="208.6,463.0 218.8,504.6" fill="none" stroke="#1c1c1c" stroke-width="1.5" stroke-linejoin="round" stroke-linecap="round"/>
<polyline points="416.0,427.5 446.0,555.0 449.0,560.5 452.0,561.0" fill="none" stroke="#1c1c1c" stroke-width="1.5" stroke-linejoin="round" stroke-linecap="round"/>
<polyline points="335.3,586.5 446.0,562.5 449.0,561.0" fill="none" stroke="#1c1c1c" stroke-width="1.5" stroke-linejoin="round" stroke-linecap="round"/>
<polyline points="452.0,561.0 601.3,529.4" fill="none" stroke="#1c1c1c" stroke-width="1.5" stroke-linejoin="round" stroke-linecap="round"/>
<polyline points="573.9,407.3 601.3,529.4" fill="none" stroke="#1c1c1c" stroke-width="1.5" stroke-linejoin="round" stroke-linecap="round"/>
<polyline points="601.3,529.4 728.0,497.5 732.0,494.0 708.5,392.0" fill="none" stroke="#1c1c1c" stroke-width="1.5" stroke-linejoin="round" stroke-linecap="round"/>
<polyline points="718.6,435.3 870.6,465.4 890.6,459.3" fill="none" stroke="#1c1c1c" stroke-width="1.5" stroke-linejoin="round" stroke-linecap="round"/>
<polyline points="870.6,465.4 868.0,524.1" fill="none" stroke="#1c1c1c" stroke-width="1.5" stroke-linejoin="round" stroke-linecap="round"/>
<polyline points="733.3,490.5 868.0,524.1" fill="none" stroke="#1c1c1c" stroke-width="1.5" stroke-linejoin="round" stroke-linecap="round"/>
<polyline points="632.0,524.1 863.9,595.3 995.9,556.6" fill="none" stroke="#1c1c1c" stroke-width="1.5" stroke-linejoin="round" stroke-linecap="round"/>
<polyline points="863.9,595.3 857.3,714.6" fill="none" stroke="#1c1c1c" stroke-width="1.5" stroke-linejoin="round" stroke-linecap="round"/>
<polyline points="713.3,594.7 860.0,642.6 993.2,604.0" fill="none" stroke="#1c1c1c" stroke-width="1.5" stroke-linejoin="round" stroke-linecap="round"/>
<polyline points="713.3,551.3 712.5,655.4" fill="none" stroke="#1c1c1c" stroke-width="1.5" stroke-linejoin="round" stroke-linecap="round"/>
<polyline points="334.0,633.3 713.3,551.3" fill="none" stroke="#1c1c1c" stroke-width="1.5" stroke-linejoin="round" stroke-linecap="round"/>
<polyline points="334.0,686.6 712.5,594.7" fill="none" stroke="#1c1c1c" stroke-width="1.5" stroke-linejoin="round" stroke-linecap="round"/>
<path d="M536.6,638.9 C540.1,642.7 542.5,654.3 544.8,660.0 C547.1,666.0 552.7,669.3 558.3,669.0 C563.0,668.6 566.5,666.0 565.0,661.0 C563.0,656.0 556.5,649.3 550.4,636.0 M546.6,642.0 C548.9,649.3 551.2,656.6 554.2,660.0 C557.1,663.3 559.5,666.0 558.6,669.0" fill="none" stroke="#1c1c1c" stroke-width="1.5"/>
<path d="M926.6,624.8 C929.0,627.7 930.6,636.6 932.2,640.9 C933.8,645.5 937.6,648.0 941.4,647.7 C944.6,647.5 947.0,645.5 946.0,641.6 C944.6,637.8 940.2,632.8 936.0,622.6 M933.4,627.2 C935.0,632.8 936.6,638.3 938.6,640.9 C940.6,643.4 942.2,645.5 941.6,647.7" fill="none" stroke="#1c1c1c" stroke-width="1.5"/></g>
<g transform="matrix(-0.85136,0,0,0.85066,2385.53,273.55)"><ellipse cx="430.3" cy="1335.5" rx="7.3" ry="3.5" fill="#fff" stroke="#1c1c1c" stroke-width="1.2000000000000002"/>
<ellipse cx="970.0" cy="1270.0" rx="8.0" ry="3.0" fill="#fff" stroke="#1c1c1c" stroke-width="1.2000000000000002"/>
<ellipse cx="1095.0" cy="1223.5" rx="6.0" ry="2.5" fill="#fff" stroke="#1c1c1c" stroke-width="1.2000000000000002"/>
<ellipse cx="459.6" cy="1301.8" rx="5.9" ry="4.2" fill="#fff" stroke="#1c1c1c" stroke-width="1.2000000000000002"/>
<polygon points="279.5,1058.5 312.3,1054.0 312.3,1030.5 318.0,1029.3 324.5,1030.0 321.6,1019.0 324.0,1013.5 330.0,1009.5 338.0,1007.3 526.9,983.3 530.0,982.8 532.3,983.3 686.9,963.3 816.0,944.5 820.0,945.5 821.5,948.0 830.1,981.8 1008.0,1015.3 1010.8,1018.0 1007.8,1086.0 1107.5,1111.8 1108.9,1114.5 1106.2,1160.0 1102.2,1221.3 970.3,1270.6 825.5,1211.4 826.3,1107.3 447.0,1189.3 451.0,1329.3 415.0,1337.3 299.0,1242.6" fill="#62615f" stroke="#1c1c1c" stroke-width="1.5" stroke-linejoin="round"/>
<polygon points="445.2,1191.2 823.4,1107.4 966.9,1154.0 966.9,1192.9 566.8,1307.7 446.9,1243.5" fill="#62615f" stroke="#1c1c1c" stroke-width="1.5" stroke-linejoin="round"/>
<polygon points="566.8,1307.7 966.9,1192.9 963.5,1201.3 565.0,1319.5" fill="#62615f" stroke="#1c1c1c" stroke-width="1.5" stroke-linejoin="round"/>
<polygon points="565.0,1319.5 963.5,1201.3 961.8,1268.8 568.4,1409.0" fill="#62615f" stroke="#1c1c1c" stroke-width="1.5" stroke-linejoin="round"/>
<polygon points="279.5,1058.5 407.0,1123.8 415.0,1337.3 299.0,1242.6" fill="#62615f" stroke="#1c1c1c" stroke-width="1.5" stroke-linejoin="round"/>
<polygon points="407.0,1123.8 442.2,1117.4 451.0,1329.3 415.0,1337.3" fill="#62615f" stroke="#1c1c1c" stroke-width="1.5" stroke-linejoin="round"/>
<path d="M550,1362 L550,1385 Q551,1400 562,1401 L566,1398 L566,1366 Z" fill="#fff" stroke="#1c1c1c" stroke-width="1"/>
<circle cx="557" cy="1386" r="5" fill="none" stroke="#1c1c1c" stroke-width="1"/>
<polyline points="279.5,1058.5 407.0,1123.8 442.2,1117.4" fill="none" stroke="#1c1c1c" stroke-width="1.5" stroke-linejoin="round" stroke-linecap="round"/>
<polyline points="312.3,1054.0 442.2,1117.4" fill="none" stroke="#1c1c1c" stroke-width="1.5" stroke-linejoin="round" stroke-linecap="round"/>
<polyline points="407.0,1123.8 415.0,1337.3" fill="none" stroke="#1c1c1c" stroke-width="1.5" stroke-linejoin="round" stroke-linecap="round"/>
<polyline points="442.2,1117.4 451.0,1329.3" fill="none" stroke="#1c1c1c" stroke-width="1.5" stroke-linejoin="round" stroke-linecap="round"/>
<polyline points="312.3,1030.5 312.3,1054.0" fill="none" stroke="#1c1c1c" stroke-width="1.5" stroke-linejoin="round" stroke-linecap="round"/>
<polyline points="318.0,1030.0 326.0,1056.0" fill="none" stroke="#1c1c1c" stroke-width="1.5" stroke-linejoin="round" stroke-linecap="round"/>
<polyline points="321.6,1019.0 331.8,1060.6" fill="none" stroke="#1c1c1c" stroke-width="1.5" stroke-linejoin="round" stroke-linecap="round"/>
<polyline points="529.0,983.5 559.0,1111.0 562.0,1116.5 565.0,1117.0" fill="none" stroke="#1c1c1c" stroke-width="1.5" stroke-linejoin="round" stroke-linecap="round"/>
<polyline points="448.3,1142.5 559.0,1118.5 562.0,1117.0" fill="none" stroke="#1c1c1c" stroke-width="1.5" stroke-linejoin="round" stroke-linecap="round"/>
<polyline points="565.0,1117.0 714.3,1085.4" fill="none" stroke="#1c1c1c" stroke-width="1.5" stroke-linejoin="round" stroke-linecap="round"/>
<polyline points="686.9,963.3 714.3,1085.4" fill="none" stroke="#1c1c1c" stroke-width="1.5" stroke-linejoin="round" stroke-linecap="round"/>
<polyline points="714.3,1085.4 841.0,1053.5 845.0,1050.0 821.5,948.0" fill="none" stroke="#1c1c1c" stroke-width="1.5" stroke-linejoin="round" stroke-linecap="round"/>
<polyline points="745.0,1080.1 976.9,1151.3 1108.9,1112.6" fill="none" stroke="#1c1c1c" stroke-width="1.5" stroke-linejoin="round" stroke-linecap="round"/>
<polyline points="976.9,1151.3 970.3,1270.6" fill="none" stroke="#1c1c1c" stroke-width="1.5" stroke-linejoin="round" stroke-linecap="round"/>
<polyline points="973.0,1198.6 1106.2,1160.0" fill="none" stroke="#1c1c1c" stroke-width="1.5" stroke-linejoin="round" stroke-linecap="round"/>
<polyline points="447.0,1189.3 826.3,1107.3" fill="none" stroke="#1c1c1c" stroke-width="1.5" stroke-linejoin="round" stroke-linecap="round"/>
<polyline points="831.8,991.3 990.6,1022.7 1010.8,1016.1" fill="none" stroke="#1c1c1c" stroke-width="1.5" stroke-linejoin="round" stroke-linecap="round"/>
<polyline points="990.6,1022.7 987.7,1081.3" fill="none" stroke="#1c1c1c" stroke-width="1.5" stroke-linejoin="round" stroke-linecap="round"/>
<polyline points="845.5,1045.2 987.7,1081.3" fill="none" stroke="#1c1c1c" stroke-width="1.5" stroke-linejoin="round" stroke-linecap="round"/>
<polyline points="445.2,1191.2 565.1,1253.6 966.9,1154.0" fill="none" stroke="#1c1c1c" stroke-width="1.5" stroke-linejoin="round" stroke-linecap="round"/>
<polyline points="447.0,1194.5 823.4,1110.5" fill="none" stroke="#1c1c1c" stroke-width="1.5" stroke-linejoin="round" stroke-linecap="round"/>
<polyline points="565.1,1253.6 566.8,1307.7" fill="none" stroke="#1c1c1c" stroke-width="1.5" stroke-linejoin="round" stroke-linecap="round"/>
<polyline points="966.9,1154.0 966.9,1192.9" fill="none" stroke="#1c1c1c" stroke-width="1.5" stroke-linejoin="round" stroke-linecap="round"/>
<polyline points="976.9,1151.3 976.9,1190.0 970.0,1270.0" fill="none" stroke="#1c1c1c" stroke-width="1.5" stroke-linejoin="round" stroke-linecap="round"/>
<polyline points="446.9,1243.5 566.8,1307.7" fill="none" stroke="#1c1c1c" stroke-width="1.5" stroke-linejoin="round" stroke-linecap="round"/>
<polyline points="565.0,1319.5 963.5,1201.3" fill="none" stroke="#1c1c1c" stroke-width="1.5" stroke-linejoin="round" stroke-linecap="round"/>
<polyline points="566.0,1322.0 963.0,1204.5" fill="none" stroke="#1c1c1c" stroke-width="1.5" stroke-linejoin="round" stroke-linecap="round"/>
<polyline points="565.0,1319.5 565.5,1408.0" fill="none" stroke="#1c1c1c" stroke-width="1.5" stroke-linejoin="round" stroke-linecap="round"/>
<polyline points="450.3,1279.0 565.0,1356.6" fill="none" stroke="#1c1c1c" stroke-width="1.5" stroke-linejoin="round" stroke-linecap="round"/>
<polyline points="450.3,1290.8 561.7,1363.4" fill="none" stroke="#1c1c1c" stroke-width="1.5" stroke-linejoin="round" stroke-linecap="round"/>
<polyline points="511.0,1279.0 565.0,1366.8" fill="none" stroke="#1c1c1c" stroke-width="1.5" stroke-linejoin="round" stroke-linecap="round"/>
<polyline points="516.0,1275.6 565.0,1350.0" fill="none" stroke="#1c1c1c" stroke-width="1.5" stroke-linejoin="round" stroke-linecap="round"/>
<polyline points="565.0,1306.0 589.0,1306.0 590.0,1315.0" fill="none" stroke="#1c1c1c" stroke-width="1.5" stroke-linejoin="round" stroke-linecap="round"/>
<path d="M779.5,1261.0 C783.2,1268.6 785.6,1292.4 788.0,1304.0 C790.5,1316.2 796.3,1323.0 802.1,1322.3 C807.0,1321.6 810.6,1316.2 809.1,1306.0 C807.0,1295.8 800.2,1282.2 793.8,1255.0 M789.9,1267.2 C792.3,1282.2 794.8,1297.2 797.8,1304.0 C800.9,1310.8 803.3,1316.2 802.4,1322.3" fill="none" stroke="#1c1c1c" stroke-width="1.5"/>
<path d="M1039.6,1180.8 C1042.0,1183.7 1043.6,1192.6 1045.2,1196.9 C1046.8,1201.5 1050.6,1204.0 1054.4,1203.7 C1057.6,1203.5 1060.0,1201.5 1059.0,1197.7 C1057.6,1193.8 1053.2,1188.8 1049.0,1178.6 M1046.4,1183.2 C1048.0,1188.8 1049.6,1194.3 1051.6,1196.9 C1053.6,1199.4 1055.2,1201.5 1054.6,1203.7" fill="none" stroke="#1c1c1c" stroke-width="1.5"/></g>
</svg>
</body></html>
